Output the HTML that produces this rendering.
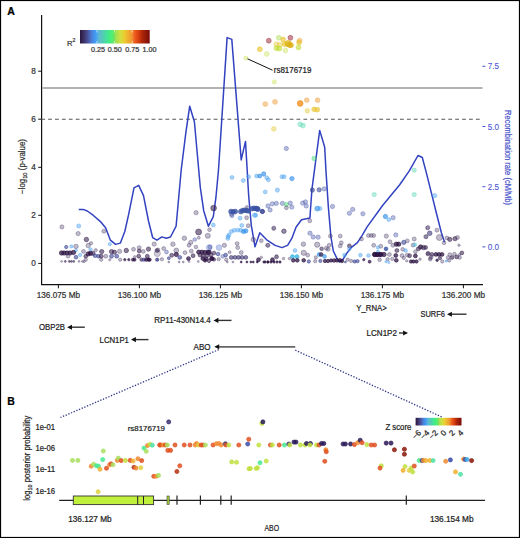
<!DOCTYPE html>
<html><head><meta charset="utf-8"><style>
html,body{margin:0;padding:0;background:#fff;}
svg{display:block;font-family:"Liberation Sans", sans-serif;}
text{stroke-width:0.22px;}
</style></head><body>
<svg width="520" height="538" viewBox="0 0 520 538">
<rect x="0.5" y="0.5" width="519" height="537" fill="none" stroke="#000" stroke-width="1.2"/>
<text x="7.3" y="14.6" font-size="10.5" text-anchor="start" fill="#000" stroke="#000" font-weight="bold">A</text>
<text x="7.3" y="405.2" font-size="10.5" text-anchor="start" fill="#000" stroke="#000" font-weight="bold">B</text>
<g stroke="#111" stroke-width="1.2" fill="none">
<path d="M41.6 15 V284.6 H483"/>
</g>
<line x1="38.2" x2="41.6" y1="263.4" y2="263.4" stroke="#111" stroke-width="1"/>
<text x="35.8" y="266.4" font-size="8.2" text-anchor="end" fill="#333" stroke="#333" >0</text>
<line x1="38.2" x2="41.6" y1="215.3" y2="215.3" stroke="#111" stroke-width="1"/>
<text x="35.8" y="218.33999999999997" font-size="8.2" text-anchor="end" fill="#333" stroke="#333" >2</text>
<line x1="38.2" x2="41.6" y1="167.3" y2="167.3" stroke="#111" stroke-width="1"/>
<text x="35.8" y="170.27999999999997" font-size="8.2" text-anchor="end" fill="#333" stroke="#333" >4</text>
<line x1="38.2" x2="41.6" y1="119.2" y2="119.2" stroke="#111" stroke-width="1"/>
<text x="35.8" y="122.21999999999997" font-size="8.2" text-anchor="end" fill="#333" stroke="#333" >6</text>
<line x1="38.2" x2="41.6" y1="71.2" y2="71.2" stroke="#111" stroke-width="1"/>
<text x="35.8" y="74.15999999999997" font-size="8.2" text-anchor="end" fill="#333" stroke="#333" >8</text>
<line x1="58.4" x2="58.4" y1="284.6" y2="288.3" stroke="#111" stroke-width="1"/>
<text x="58.4" y="297.6" font-size="8.2" text-anchor="middle" fill="#333" stroke="#333" >136.075 Mb</text>
<line x1="139.4" x2="139.4" y1="284.6" y2="288.3" stroke="#111" stroke-width="1"/>
<text x="139.4" y="297.6" font-size="8.2" text-anchor="middle" fill="#333" stroke="#333" >136.100 Mb</text>
<line x1="220.4" x2="220.4" y1="284.6" y2="288.3" stroke="#111" stroke-width="1"/>
<text x="220.4" y="297.6" font-size="8.2" text-anchor="middle" fill="#333" stroke="#333" >136.125 Mb</text>
<line x1="301.4" x2="301.4" y1="284.6" y2="288.3" stroke="#111" stroke-width="1"/>
<text x="301.4" y="297.6" font-size="8.2" text-anchor="middle" fill="#333" stroke="#333" >136.150 Mb</text>
<line x1="382.4" x2="382.4" y1="284.6" y2="288.3" stroke="#111" stroke-width="1"/>
<text x="382.4" y="297.6" font-size="8.2" text-anchor="middle" fill="#333" stroke="#333" >136.175 Mb</text>
<line x1="463.4" x2="463.4" y1="284.6" y2="288.3" stroke="#111" stroke-width="1"/>
<text x="463.4" y="297.6" font-size="8.2" text-anchor="middle" fill="#333" stroke="#333" >136.200 Mb</text>
<text transform="translate(24.6,166.5) rotate(-90)" font-size="8.4" text-anchor="middle" fill="#333" stroke="#333" textLength="55" lengthAdjust="spacingAndGlyphs">&#8722;log<tspan font-size="6" dy="2">10</tspan><tspan dy="-2"> (p-value)</tspan></text>
<line x1="42.2" x2="482.5" y1="88" y2="88" stroke="#999" stroke-width="1.3"/>
<line x1="41.2" x2="482.5" y1="119.2" y2="119.2" stroke="#555" stroke-width="1.1" stroke-dasharray="3.8 3.1"/>
<line x1="482.4" x2="485.4" y1="246.9" y2="246.9" stroke="#4b55cc" stroke-width="1"/>
<text x="487.8" y="249.9" font-size="9.0" text-anchor="start" fill="#4c56d4" stroke="#4c56d4" textLength="11.3" lengthAdjust="spacingAndGlyphs" style="stroke-width:0.1px">0.0</text>
<line x1="482.4" x2="485.4" y1="186.7" y2="186.7" stroke="#4b55cc" stroke-width="1"/>
<text x="487.8" y="189.70000000000002" font-size="9.0" text-anchor="start" fill="#4c56d4" stroke="#4c56d4" textLength="11.3" lengthAdjust="spacingAndGlyphs" style="stroke-width:0.1px">2.5</text>
<line x1="482.4" x2="485.4" y1="126.5" y2="126.5" stroke="#4b55cc" stroke-width="1"/>
<text x="487.8" y="129.5" font-size="9.0" text-anchor="start" fill="#4c56d4" stroke="#4c56d4" textLength="11.3" lengthAdjust="spacingAndGlyphs" style="stroke-width:0.1px">5.0</text>
<line x1="482.4" x2="485.4" y1="66.3" y2="66.3" stroke="#4b55cc" stroke-width="1"/>
<text x="487.8" y="69.30000000000001" font-size="9.0" text-anchor="start" fill="#4c56d4" stroke="#4c56d4" textLength="11.3" lengthAdjust="spacingAndGlyphs" style="stroke-width:0.1px">7.5</text>
<text transform="translate(505,157.5) rotate(90)" font-size="8.6" text-anchor="middle" fill="#4b55cc" stroke="#4b55cc" textLength="95" lengthAdjust="spacingAndGlyphs">Recombination rate (cM/Mb)</text>
<defs><linearGradient id="cb" x1="0" x2="1" y1="0" y2="0"><stop offset="0.0" stop-color="#2a1840"/><stop offset="0.05" stop-color="#3a3060"/><stop offset="0.1" stop-color="#4a4a90"/><stop offset="0.17" stop-color="#4a80d8"/><stop offset="0.23" stop-color="#40a0f8"/><stop offset="0.27" stop-color="#60b8d0"/><stop offset="0.34" stop-color="#50d0b0"/><stop offset="0.4" stop-color="#40e890"/><stop offset="0.46" stop-color="#50f070"/><stop offset="0.49" stop-color="#70e060"/><stop offset="0.52" stop-color="#a8e050"/><stop offset="0.58" stop-color="#d0e040"/><stop offset="0.63" stop-color="#e8d030"/><stop offset="0.69" stop-color="#f0b030"/><stop offset="0.75" stop-color="#f09030"/><stop offset="0.78" stop-color="#f06020"/><stop offset="0.84" stop-color="#d84010"/><stop offset="0.89" stop-color="#b02808"/><stop offset="0.95" stop-color="#901808"/><stop offset="1.0" stop-color="#7a0a08"/></linearGradient></defs>
<rect x="80" y="30" width="69.7" height="13.5" fill="url(#cb)"/>
<line x1="97.0" x2="97.0" y1="30" y2="32.5" stroke="#fff" stroke-width="0.8" opacity="0.8"/>
<line x1="97.0" x2="97.0" y1="41" y2="43.5" stroke="#fff" stroke-width="0.8" opacity="0.8"/>
<line x1="114.6" x2="114.6" y1="30" y2="32.5" stroke="#fff" stroke-width="0.8" opacity="0.8"/>
<line x1="114.6" x2="114.6" y1="41" y2="43.5" stroke="#fff" stroke-width="0.8" opacity="0.8"/>
<line x1="132.2" x2="132.2" y1="30" y2="32.5" stroke="#fff" stroke-width="0.8" opacity="0.8"/>
<line x1="132.2" x2="132.2" y1="41" y2="43.5" stroke="#fff" stroke-width="0.8" opacity="0.8"/>
<text x="98" y="52.2" font-size="7.2" text-anchor="middle" fill="#333" stroke="#333" >0.25</text>
<text x="114.7" y="52.2" font-size="7.2" text-anchor="middle" fill="#333" stroke="#333" >0.50</text>
<text x="132.2" y="52.2" font-size="7.2" text-anchor="middle" fill="#333" stroke="#333" >0.75</text>
<text x="149.5" y="52.2" font-size="7.2" text-anchor="middle" fill="#333" stroke="#333" >1.00</text>
<text x="67" y="46" font-size="7.6" fill="#333" stroke="#333">R<tspan font-size="5.2" dy="-3.6">2</tspan></text>
<text x="39.0" y="330.1" font-size="8.2" text-anchor="start" fill="#222" stroke="#222" textLength="26" lengthAdjust="spacingAndGlyphs" >OBP2B</text>
<line x1="70.1" x2="84.8" y1="327.2" y2="327.2" stroke="#333" stroke-width="1.4"/>
<path d="M67.1 327.2 L72.0 324.65 L72.0 329.75Z" fill="#111"/>
<text x="99.6" y="342.6" font-size="8.2" text-anchor="start" fill="#222" stroke="#222" textLength="29.3" lengthAdjust="spacingAndGlyphs" >LCN1P1</text>
<line x1="134" x2="148.5" y1="339.6" y2="339.6" stroke="#333" stroke-width="1.4"/>
<path d="M131 339.6 L135.9 337.05 L135.9 342.15000000000003Z" fill="#111"/>
<text x="154.3" y="323.4" font-size="8.2" text-anchor="start" fill="#222" stroke="#222" textLength="56.4" lengthAdjust="spacingAndGlyphs" >RP11-430N14.4</text>
<line x1="216.5" x2="231.5" y1="320.4" y2="320.4" stroke="#333" stroke-width="1.4"/>
<path d="M213.5 320.4 L218.4 317.84999999999997 L218.4 322.95Z" fill="#111"/>
<text x="193.6" y="349.8" font-size="8.2" text-anchor="start" fill="#222" stroke="#222" textLength="17" lengthAdjust="spacingAndGlyphs" >ABO</text>
<line x1="217.3" x2="295.3" y1="346.8" y2="346.8" stroke="#666" stroke-width="1.7"/>
<path d="M214.3 346.8 L219.20000000000002 344.25 L219.20000000000002 349.35Z" fill="#111"/>
<text x="356.3" y="310.8" font-size="8.2" text-anchor="start" fill="#222" stroke="#222" textLength="30.4" lengthAdjust="spacingAndGlyphs" >Y_RNA&gt;</text>
<text x="420.4" y="317.2" font-size="8.2" text-anchor="start" fill="#222" stroke="#222" textLength="24.5" lengthAdjust="spacingAndGlyphs" >SURF6</text>
<line x1="450" x2="466.5" y1="314.2" y2="314.2" stroke="#333" stroke-width="1.4"/>
<path d="M447 314.2 L451.9 311.65 L451.9 316.75Z" fill="#111"/>
<text x="366.6" y="336" font-size="8.2" text-anchor="start" fill="#222" stroke="#222" textLength="30.3" lengthAdjust="spacingAndGlyphs" >LCN1P2</text>
<line x1="399" x2="405" y1="333" y2="333" stroke="#333" stroke-width="1.4"/>
<path d="M408 333 L403.1 330.45 L403.1 335.55Z" fill="#111"/>
<line x1="218.7" y1="349.6" x2="60.5" y2="417.5" stroke="#2e3588" stroke-width="1.3" stroke-dasharray="1.3 1.6"/>
<line x1="295.3" y1="350.2" x2="443" y2="417.5" stroke="#2e3588" stroke-width="1.3" stroke-dasharray="1.3 1.6"/>
<text x="35.5" y="429.5" font-size="8.2" text-anchor="start" fill="#222" stroke="#222" textLength="19.6" lengthAdjust="spacingAndGlyphs" >1e-01</text>
<text x="35.5" y="450.9" font-size="8.2" text-anchor="start" fill="#222" stroke="#222" textLength="19.6" lengthAdjust="spacingAndGlyphs" >1e-06</text>
<text x="35.5" y="472.4" font-size="8.2" text-anchor="start" fill="#222" stroke="#222" textLength="19.6" lengthAdjust="spacingAndGlyphs" >1e-11</text>
<text x="35.5" y="494.4" font-size="8.2" text-anchor="start" fill="#222" stroke="#222" textLength="19.6" lengthAdjust="spacingAndGlyphs" >1e-16</text>
<text transform="translate(29.6,458.2) rotate(-90)" font-size="8.4" text-anchor="middle" fill="#222" stroke="#222" textLength="85" lengthAdjust="spacingAndGlyphs">log<tspan font-size="6" dy="2">10</tspan><tspan dy="-2"> posterior probability</tspan></text>
<line x1="59.2" x2="485" y1="500.3" y2="500.3" stroke="#222" stroke-width="1.2"/>
<rect x="73.3" y="496" width="80.3" height="8.6" fill="#c0f03c" stroke="#333" stroke-width="0.9"/>
<line x1="137.7" x2="137.7" y1="496" y2="504.6" stroke="#222" stroke-width="1"/>
<line x1="143.5" x2="143.5" y1="496" y2="504.6" stroke="#222" stroke-width="1"/>
<rect x="167" y="496" width="2.2" height="8.6" fill="#a4cc30" stroke="#444" stroke-width="0.6"/>
<line x1="177" x2="177" y1="495.6" y2="504.8" stroke="#222" stroke-width="1.2"/>
<line x1="200.4" x2="200.4" y1="495.6" y2="504.8" stroke="#222" stroke-width="1.2"/>
<line x1="220.8" x2="220.8" y1="495.6" y2="504.8" stroke="#222" stroke-width="1.2"/>
<line x1="231.2" x2="231.2" y1="495.6" y2="504.8" stroke="#222" stroke-width="1.2"/>
<line x1="406.3" x2="406.3" y1="495.6" y2="504.8" stroke="#222" stroke-width="1.2"/>
<text x="68.2" y="521.6" font-size="8.2" text-anchor="start" fill="#222" stroke="#222" textLength="43.4" lengthAdjust="spacingAndGlyphs" >136.127 Mb</text>
<text x="429.9" y="522.2" font-size="8.2" text-anchor="start" fill="#222" stroke="#222" textLength="43.7" lengthAdjust="spacingAndGlyphs" >136.154 Mb</text>
<text x="264.5" y="530.8" font-size="9.5" text-anchor="start" fill="#222" stroke="#222" textLength="14.6" lengthAdjust="spacingAndGlyphs" >ABO</text>
<text x="273.8" y="73.2" font-size="8.6" text-anchor="start" fill="#222" stroke="#222" textLength="37.6" lengthAdjust="spacingAndGlyphs" >rs8176719</text>
<text x="127.7" y="430.8" font-size="7.8" text-anchor="start" fill="#222" stroke="#222" textLength="37.3" lengthAdjust="spacingAndGlyphs" >rs8176719</text>
<rect x="415.6" y="417.8" width="45.9" height="7.7" fill="url(#cb)"/>
<text x="385.4" y="430" font-size="8.2" text-anchor="start" fill="#222" stroke="#222" textLength="26" lengthAdjust="spacingAndGlyphs" >Z score</text>
<text transform="translate(421.6,433.3) rotate(-45)" font-size="8" text-anchor="end" fill="#222" stroke="#222">&#8722;6</text>
<text transform="translate(430.0,433.3) rotate(-45)" font-size="8" text-anchor="end" fill="#222" stroke="#222">&#8722;4</text>
<text transform="translate(438.5,433.3) rotate(-45)" font-size="8" text-anchor="end" fill="#222" stroke="#222">&#8722;2</text>
<text transform="translate(446.9,433.3) rotate(-45)" font-size="8" text-anchor="end" fill="#222" stroke="#222">0</text>
<text transform="translate(455.4,433.3) rotate(-45)" font-size="8" text-anchor="end" fill="#222" stroke="#222">2</text>
<text transform="translate(463.8,433.3) rotate(-45)" font-size="8" text-anchor="end" fill="#222" stroke="#222">4</text>
<polyline fill="none" stroke="#3242c0" stroke-width="1.5" stroke-linejoin="round" points="78.7,209.4 83.1,209.4 87.3,211 93.1,215.2 100.8,221.9 105.6,227.7 110.4,240.2 115.6,244.4 120.4,243.1 124.8,231.5 128.7,214.2 134,187.9 138.7,185.4 143.5,195.6 148.5,221 152.7,237.7 156.9,240.2 161.9,236.9 166.2,238.3 170.5,237 176.1,226.2 181.2,170 185.8,133.1 189.7,106.2 194.4,121.8 200.3,187.3 203.7,210.7 208.4,226.2 213.3,216.7 215.9,197.7 218.5,170 227.1,37.6 231.8,39.4 241.2,159.9 245.5,141.4 248.7,196 251.3,225.4 255,246.8 259.8,232.8 266.7,239.8 275.1,245.4 282,247.6 287.6,245.4 291.8,238.4 296,227.3 301.5,219.7 309.9,218.1 311.9,189.7 319.7,130.4 324.7,147.3 326,171.4 328.4,207.6 330.9,236.6 333.3,251 336.9,258.3 339.3,261.9 342.9,259.5 346.6,253.5 351.4,247.4 357.4,242.6 362.2,235.4 367.1,226.9 382.8,205.2 399.7,184.7 409.3,170.9 418,155.5 422.3,157.5 426.3,172.6 431.3,192.6 436.3,212.7 441.4,232.8 444.6,242.3"/>
<circle cx="268.8" cy="40.7" r="2.45" fill="#a03040" fill-opacity="0.55" stroke="#a03040" stroke-opacity="0.65" stroke-width="0.7"/>
<circle cx="278.8" cy="37.8" r="2.45" fill="#b0e060" fill-opacity="0.5" stroke="#b0e060" stroke-opacity="0.6" stroke-width="0.7"/>
<circle cx="283.1" cy="39.5" r="2.45" fill="#e8c020" fill-opacity="0.6" stroke="#e8c020" stroke-opacity="0.7" stroke-width="0.7"/>
<circle cx="290.4" cy="37.8" r="2.45" fill="#a03040" fill-opacity="0.55" stroke="#a03040" stroke-opacity="0.65" stroke-width="0.7"/>
<circle cx="299.6" cy="40.7" r="2.45" fill="#f0a850" fill-opacity="0.55" stroke="#f0a850" stroke-opacity="0.65" stroke-width="0.7"/>
<circle cx="299.0" cy="42.5" r="2.45" fill="#e8c020" fill-opacity="0.6" stroke="#e8c020" stroke-opacity="0.7" stroke-width="0.7"/>
<circle cx="276.3" cy="44.2" r="2.45" fill="#e8d050" fill-opacity="0.5" stroke="#e8d050" stroke-opacity="0.6" stroke-width="0.7"/>
<circle cx="279.8" cy="44.7" r="2.45" fill="#e8d050" fill-opacity="0.5" stroke="#e8d050" stroke-opacity="0.6" stroke-width="0.7"/>
<circle cx="284.6" cy="44.2" r="2.45" fill="#e8c020" fill-opacity="0.6" stroke="#e8c020" stroke-opacity="0.7" stroke-width="0.7"/>
<circle cx="288.1" cy="43.6" r="3.15" fill="#dcb010" fill-opacity="0.7" stroke="#dcb010" stroke-opacity="0.8" stroke-width="0.7"/>
<circle cx="291.0" cy="45.3" r="2.45" fill="#dcb010" fill-opacity="0.7" stroke="#dcb010" stroke-opacity="0.8" stroke-width="0.7"/>
<circle cx="289.5" cy="44.8" r="2.65" fill="#dcb010" fill-opacity="0.7" stroke="#dcb010" stroke-opacity="0.8" stroke-width="0.7"/>
<circle cx="276.5" cy="48.2" r="2.45" fill="#bcd820" fill-opacity="0.55" stroke="#bcd820" stroke-opacity="0.65" stroke-width="0.7"/>
<circle cx="279.4" cy="48.5" r="2.45" fill="#bcd820" fill-opacity="0.55" stroke="#bcd820" stroke-opacity="0.65" stroke-width="0.7"/>
<circle cx="285.5" cy="50.5" r="2.45" fill="#d0e870" fill-opacity="0.5" stroke="#d0e870" stroke-opacity="0.6" stroke-width="0.7"/>
<circle cx="298.5" cy="47.4" r="2.45" fill="#bcd820" fill-opacity="0.55" stroke="#bcd820" stroke-opacity="0.65" stroke-width="0.7"/>
<circle cx="259.8" cy="49.3" r="2.45" fill="#e8c020" fill-opacity="0.6" stroke="#e8c020" stroke-opacity="0.7" stroke-width="0.7"/>
<circle cx="266.7" cy="54.0" r="2.45" fill="#d0e870" fill-opacity="0.5" stroke="#d0e870" stroke-opacity="0.6" stroke-width="0.7"/>
<circle cx="246.0" cy="58.1" r="2.15" fill="#d0e870" fill-opacity="0.5" stroke="#d0e870" stroke-opacity="0.6" stroke-width="0.7"/>
<circle cx="274.3" cy="82.0" r="2.15" fill="#d0e870" fill-opacity="0.5" stroke="#d0e870" stroke-opacity="0.6" stroke-width="0.7"/>
<circle cx="265.3" cy="104.1" r="2.45" fill="#f0a850" fill-opacity="0.55" stroke="#f0a850" stroke-opacity="0.65" stroke-width="0.7"/>
<circle cx="275.0" cy="101.9" r="2.45" fill="#f0a850" fill-opacity="0.55" stroke="#f0a850" stroke-opacity="0.65" stroke-width="0.7"/>
<circle cx="300.2" cy="103.4" r="2.85" fill="#f08a10" fill-opacity="0.75" stroke="#f08a10" stroke-opacity="0.85" stroke-width="0.7"/>
<circle cx="306.7" cy="100.2" r="2.35" fill="#f0a850" fill-opacity="0.55" stroke="#f0a850" stroke-opacity="0.65" stroke-width="0.7"/>
<circle cx="317.6" cy="100.2" r="2.35" fill="#f0a850" fill-opacity="0.55" stroke="#f0a850" stroke-opacity="0.65" stroke-width="0.7"/>
<circle cx="307.3" cy="110.8" r="2.35" fill="#e8d050" fill-opacity="0.5" stroke="#e8d050" stroke-opacity="0.6" stroke-width="0.7"/>
<circle cx="314.1" cy="109.3" r="2.35" fill="#e8c020" fill-opacity="0.6" stroke="#e8c020" stroke-opacity="0.7" stroke-width="0.7"/>
<circle cx="317.3" cy="109.7" r="2.35" fill="#e8c020" fill-opacity="0.6" stroke="#e8c020" stroke-opacity="0.7" stroke-width="0.7"/>
<circle cx="300.2" cy="124.3" r="2.35" fill="#50d4b0" fill-opacity="0.4" stroke="#50d4b0" stroke-opacity="0.55" stroke-width="0.7"/>
<circle cx="303.0" cy="125.6" r="2.35" fill="#50d4b0" fill-opacity="0.4" stroke="#50d4b0" stroke-opacity="0.55" stroke-width="0.7"/>
<circle cx="273.8" cy="128.9" r="2.35" fill="#e8d050" fill-opacity="0.5" stroke="#e8d050" stroke-opacity="0.6" stroke-width="0.7"/>
<circle cx="286.3" cy="148.5" r="2.15" fill="#4a5aa8" fill-opacity="0.4" stroke="#4a5aa8" stroke-opacity="0.55" stroke-width="0.7"/>
<circle cx="314.0" cy="158.5" r="2.15" fill="#40d870" fill-opacity="0.45" stroke="#40d870" stroke-opacity="0.6" stroke-width="0.7"/>
<circle cx="374.2" cy="194.6" r="2.15" fill="#50d4b0" fill-opacity="0.4" stroke="#50d4b0" stroke-opacity="0.55" stroke-width="0.7"/>
<circle cx="414.2" cy="194.6" r="2.15" fill="#50d4b0" fill-opacity="0.4" stroke="#50d4b0" stroke-opacity="0.55" stroke-width="0.7"/>
<circle cx="414.2" cy="170.2" r="2.15" fill="#50d4b0" fill-opacity="0.4" stroke="#50d4b0" stroke-opacity="0.55" stroke-width="0.7"/>
<circle cx="434.6" cy="195.7" r="2.15" fill="#4aa0f0" fill-opacity="0.45" stroke="#4aa0f0" stroke-opacity="0.6" stroke-width="0.7"/>
<circle cx="232" cy="177.5" r="1.95" fill="#4aa0f0" fill-opacity="0.45" stroke="#4aa0f0" stroke-opacity="0.6" stroke-width="0.7"/>
<circle cx="243.3" cy="180.5" r="1.95" fill="#4aa0f0" fill-opacity="0.45" stroke="#4aa0f0" stroke-opacity="0.6" stroke-width="0.7"/>
<circle cx="248.6" cy="176.8" r="1.95" fill="#4aa0f0" fill-opacity="0.45" stroke="#4aa0f0" stroke-opacity="0.6" stroke-width="0.7"/>
<circle cx="256.6" cy="176" r="1.95" fill="#4aa0f0" fill-opacity="0.45" stroke="#4aa0f0" stroke-opacity="0.6" stroke-width="0.7"/>
<circle cx="259.7" cy="176" r="1.95" fill="#2e8ce8" fill-opacity="0.62" stroke="#2e8ce8" stroke-opacity="0.78" stroke-width="0.7"/>
<circle cx="263.7" cy="174" r="2.15" fill="#2e8ce8" fill-opacity="0.62" stroke="#2e8ce8" stroke-opacity="0.78" stroke-width="0.7"/>
<circle cx="266.7" cy="177.8" r="1.95" fill="#4aa0f0" fill-opacity="0.45" stroke="#4aa0f0" stroke-opacity="0.6" stroke-width="0.7"/>
<circle cx="268.4" cy="179.8" r="1.95" fill="#4aa0f0" fill-opacity="0.45" stroke="#4aa0f0" stroke-opacity="0.6" stroke-width="0.7"/>
<circle cx="281.9" cy="176.7" r="1.95" fill="#4aa0f0" fill-opacity="0.45" stroke="#4aa0f0" stroke-opacity="0.6" stroke-width="0.7"/>
<circle cx="284.2" cy="176.7" r="1.95" fill="#4aa0f0" fill-opacity="0.45" stroke="#4aa0f0" stroke-opacity="0.6" stroke-width="0.7"/>
<circle cx="291.9" cy="178.6" r="2.15" fill="#2e8ce8" fill-opacity="0.62" stroke="#2e8ce8" stroke-opacity="0.78" stroke-width="0.7"/>
<circle cx="265.2" cy="191.9" r="1.95" fill="#4aa0f0" fill-opacity="0.45" stroke="#4aa0f0" stroke-opacity="0.6" stroke-width="0.7"/>
<circle cx="277.4" cy="190.1" r="2.15" fill="#4aa0f0" fill-opacity="0.45" stroke="#4aa0f0" stroke-opacity="0.6" stroke-width="0.7"/>
<circle cx="312.4" cy="190.1" r="2.15" fill="#2e3a8c" fill-opacity="0.55" stroke="#2e3a8c" stroke-opacity="0.7" stroke-width="0.7"/>
<circle cx="319.2" cy="189.8" r="2.15" fill="#2e3a8c" fill-opacity="0.55" stroke="#2e3a8c" stroke-opacity="0.7" stroke-width="0.7"/>
<circle cx="324.2" cy="188.9" r="2.15" fill="#4a5aa8" fill-opacity="0.4" stroke="#4a5aa8" stroke-opacity="0.55" stroke-width="0.7"/>
<circle cx="257.2" cy="208.8" r="2.45" fill="#2e3a8c" fill-opacity="0.55" stroke="#2e3a8c" stroke-opacity="0.7" stroke-width="0.7"/>
<circle cx="262.2" cy="211.4" r="2.15" fill="#2e3a8c" fill-opacity="0.55" stroke="#2e3a8c" stroke-opacity="0.7" stroke-width="0.7"/>
<circle cx="268" cy="206" r="2.15" fill="#4a5aa8" fill-opacity="0.4" stroke="#4a5aa8" stroke-opacity="0.55" stroke-width="0.7"/>
<circle cx="270.1" cy="210" r="2.15" fill="#4a5aa8" fill-opacity="0.4" stroke="#4a5aa8" stroke-opacity="0.55" stroke-width="0.7"/>
<circle cx="272.3" cy="203.8" r="2.15" fill="#4a5aa8" fill-opacity="0.4" stroke="#4a5aa8" stroke-opacity="0.55" stroke-width="0.7"/>
<circle cx="276.3" cy="203.4" r="2.15" fill="#4a5aa8" fill-opacity="0.4" stroke="#4a5aa8" stroke-opacity="0.55" stroke-width="0.7"/>
<circle cx="282.4" cy="203.4" r="2.15" fill="#4a5aa8" fill-opacity="0.4" stroke="#4a5aa8" stroke-opacity="0.55" stroke-width="0.7"/>
<circle cx="286.4" cy="204.5" r="2.15" fill="#40d870" fill-opacity="0.45" stroke="#40d870" stroke-opacity="0.6" stroke-width="0.7"/>
<circle cx="290.3" cy="203.1" r="2.15" fill="#4a5aa8" fill-opacity="0.4" stroke="#4a5aa8" stroke-opacity="0.55" stroke-width="0.7"/>
<circle cx="291.8" cy="207.1" r="2.15" fill="#4a5aa8" fill-opacity="0.4" stroke="#4a5aa8" stroke-opacity="0.55" stroke-width="0.7"/>
<circle cx="286.4" cy="207.7" r="1.95" fill="#4a3a66" fill-opacity="0.34" stroke="#4a3a66" stroke-opacity="0.52" stroke-width="0.7"/>
<circle cx="302.6" cy="203.1" r="2.15" fill="#4a5aa8" fill-opacity="0.4" stroke="#4a5aa8" stroke-opacity="0.55" stroke-width="0.7"/>
<circle cx="305.5" cy="201.9" r="2.15" fill="#4a5aa8" fill-opacity="0.4" stroke="#4a5aa8" stroke-opacity="0.55" stroke-width="0.7"/>
<circle cx="306.2" cy="206" r="2.15" fill="#4a5aa8" fill-opacity="0.4" stroke="#4a5aa8" stroke-opacity="0.55" stroke-width="0.7"/>
<circle cx="317.3" cy="208.6" r="2.45" fill="#2e8ce8" fill-opacity="0.62" stroke="#2e8ce8" stroke-opacity="0.78" stroke-width="0.7"/>
<circle cx="255.7" cy="215.3" r="1.95" fill="#4aa0f0" fill-opacity="0.45" stroke="#4aa0f0" stroke-opacity="0.6" stroke-width="0.7"/>
<circle cx="309.8" cy="220.8" r="1.95" fill="#4a3a66" fill-opacity="0.34" stroke="#4a3a66" stroke-opacity="0.52" stroke-width="0.7"/>
<circle cx="273.8" cy="227.9" r="1.95" fill="#4a3a66" fill-opacity="0.34" stroke="#4a3a66" stroke-opacity="0.52" stroke-width="0.7"/>
<circle cx="283.8" cy="231.2" r="2.15" fill="#4a3a66" fill-opacity="0.34" stroke="#4a3a66" stroke-opacity="0.52" stroke-width="0.7"/>
<circle cx="231.5" cy="214.2" r="2.15" fill="#4a5aa8" fill-opacity="0.4" stroke="#4a5aa8" stroke-opacity="0.55" stroke-width="0.7"/>
<circle cx="231" cy="211.5" r="2.35" fill="#3a52a4" fill-opacity="0.8" stroke="#3a52a4" stroke-opacity="0.85" stroke-width="0.7"/>
<circle cx="233.2" cy="211.8" r="2.35" fill="#3a52a4" fill-opacity="0.8" stroke="#3a52a4" stroke-opacity="0.85" stroke-width="0.7"/>
<circle cx="235.3" cy="211.5" r="2.35" fill="#3a52a4" fill-opacity="0.8" stroke="#3a52a4" stroke-opacity="0.85" stroke-width="0.7"/>
<circle cx="240.8" cy="211.6" r="2.35" fill="#3a52a4" fill-opacity="0.8" stroke="#3a52a4" stroke-opacity="0.85" stroke-width="0.7"/>
<circle cx="242.6" cy="210.6" r="2.35" fill="#3a52a4" fill-opacity="0.8" stroke="#3a52a4" stroke-opacity="0.85" stroke-width="0.7"/>
<circle cx="244.6" cy="210.2" r="2.35" fill="#3a52a4" fill-opacity="0.8" stroke="#3a52a4" stroke-opacity="0.85" stroke-width="0.7"/>
<circle cx="246.6" cy="210.5" r="2.35" fill="#3a52a4" fill-opacity="0.8" stroke="#3a52a4" stroke-opacity="0.85" stroke-width="0.7"/>
<circle cx="248.4" cy="211" r="2.35" fill="#3a52a4" fill-opacity="0.8" stroke="#3a52a4" stroke-opacity="0.85" stroke-width="0.7"/>
<circle cx="252.2" cy="208.6" r="2.35" fill="#3a52a4" fill-opacity="0.8" stroke="#3a52a4" stroke-opacity="0.85" stroke-width="0.7"/>
<circle cx="254.2" cy="208.3" r="2.35" fill="#3a52a4" fill-opacity="0.8" stroke="#3a52a4" stroke-opacity="0.85" stroke-width="0.7"/>
<circle cx="256.2" cy="208.5" r="2.35" fill="#3a52a4" fill-opacity="0.8" stroke="#3a52a4" stroke-opacity="0.85" stroke-width="0.7"/>
<circle cx="257.8" cy="209.2" r="2.35" fill="#3a52a4" fill-opacity="0.8" stroke="#3a52a4" stroke-opacity="0.85" stroke-width="0.7"/>
<circle cx="262.6" cy="211.6" r="2.05" fill="#2e3a8c" fill-opacity="0.55" stroke="#2e3a8c" stroke-opacity="0.7" stroke-width="0.7"/>
<circle cx="232" cy="215.7" r="1.95" fill="#4a5aa8" fill-opacity="0.4" stroke="#4a5aa8" stroke-opacity="0.55" stroke-width="0.7"/>
<circle cx="240.1" cy="218.2" r="1.95" fill="#4aa0f0" fill-opacity="0.45" stroke="#4aa0f0" stroke-opacity="0.6" stroke-width="0.7"/>
<circle cx="246.6" cy="217.7" r="1.95" fill="#4a3a66" fill-opacity="0.34" stroke="#4a3a66" stroke-opacity="0.52" stroke-width="0.7"/>
<circle cx="254.6" cy="215.2" r="2.15" fill="#4aa0f0" fill-opacity="0.45" stroke="#4aa0f0" stroke-opacity="0.6" stroke-width="0.7"/>
<circle cx="246.9" cy="207" r="1.45" fill="#4a3a66" fill-opacity="0.34" stroke="#4a3a66" stroke-opacity="0.52" stroke-width="0.7"/>
<circle cx="213.3" cy="225" r="1.95" fill="#4aa0f0" fill-opacity="0.45" stroke="#4aa0f0" stroke-opacity="0.6" stroke-width="0.7"/>
<circle cx="241.8" cy="225.4" r="1.95" fill="#4aa0f0" fill-opacity="0.45" stroke="#4aa0f0" stroke-opacity="0.6" stroke-width="0.7"/>
<circle cx="248.2" cy="225.7" r="1.95" fill="#4a3a66" fill-opacity="0.34" stroke="#4a3a66" stroke-opacity="0.52" stroke-width="0.7"/>
<circle cx="227.9" cy="238.4" r="1.95" fill="#4aa0f0" fill-opacity="0.45" stroke="#4aa0f0" stroke-opacity="0.6" stroke-width="0.7"/>
<circle cx="229" cy="234.9" r="1.95" fill="#4aa0f0" fill-opacity="0.45" stroke="#4aa0f0" stroke-opacity="0.6" stroke-width="0.7"/>
<circle cx="231.3" cy="231.5" r="1.95" fill="#4aa0f0" fill-opacity="0.45" stroke="#4aa0f0" stroke-opacity="0.6" stroke-width="0.7"/>
<circle cx="234.2" cy="230.3" r="1.95" fill="#4aa0f0" fill-opacity="0.45" stroke="#4aa0f0" stroke-opacity="0.6" stroke-width="0.7"/>
<circle cx="237.7" cy="230.1" r="1.95" fill="#4aa0f0" fill-opacity="0.45" stroke="#4aa0f0" stroke-opacity="0.6" stroke-width="0.7"/>
<circle cx="240.6" cy="230.3" r="1.95" fill="#4aa0f0" fill-opacity="0.45" stroke="#4aa0f0" stroke-opacity="0.6" stroke-width="0.7"/>
<circle cx="243.5" cy="231.5" r="2.15" fill="#2e8ce8" fill-opacity="0.62" stroke="#2e8ce8" stroke-opacity="0.78" stroke-width="0.7"/>
<circle cx="245.8" cy="230.9" r="2.15" fill="#2e8ce8" fill-opacity="0.62" stroke="#2e8ce8" stroke-opacity="0.78" stroke-width="0.7"/>
<circle cx="228.0" cy="236.5" r="1.95" fill="#4aa0f0" fill-opacity="0.45" stroke="#4aa0f0" stroke-opacity="0.6" stroke-width="0.7"/>
<circle cx="332.5" cy="206.5" r="2.15" fill="#4a5aa8" fill-opacity="0.4" stroke="#4a5aa8" stroke-opacity="0.55" stroke-width="0.7"/>
<circle cx="352.7" cy="209.4" r="2.15" fill="#4a5aa8" fill-opacity="0.4" stroke="#4a5aa8" stroke-opacity="0.55" stroke-width="0.7"/>
<circle cx="349.4" cy="213.3" r="2.15" fill="#4a5aa8" fill-opacity="0.4" stroke="#4a5aa8" stroke-opacity="0.55" stroke-width="0.7"/>
<circle cx="362.9" cy="213.8" r="2.15" fill="#4a5aa8" fill-opacity="0.4" stroke="#4a5aa8" stroke-opacity="0.55" stroke-width="0.7"/>
<circle cx="385.4" cy="216.5" r="2.15" fill="#2e8ce8" fill-opacity="0.62" stroke="#2e8ce8" stroke-opacity="0.78" stroke-width="0.7"/>
<circle cx="388.8" cy="219.6" r="1.95" fill="#4aa0f0" fill-opacity="0.45" stroke="#4aa0f0" stroke-opacity="0.6" stroke-width="0.7"/>
<circle cx="393.1" cy="217.7" r="2.15" fill="#4a5aa8" fill-opacity="0.4" stroke="#4a5aa8" stroke-opacity="0.55" stroke-width="0.7"/>
<circle cx="320" cy="208.5" r="1.95" fill="#4aa0f0" fill-opacity="0.45" stroke="#4aa0f0" stroke-opacity="0.6" stroke-width="0.7"/>
<circle cx="61.9" cy="226.9" r="2.05" fill="#4a3a66" fill-opacity="0.34" stroke="#4a3a66" stroke-opacity="0.52" stroke-width="0.7"/>
<circle cx="78.7" cy="226" r="2.05" fill="#4aa0f0" fill-opacity="0.45" stroke="#4aa0f0" stroke-opacity="0.6" stroke-width="0.7"/>
<circle cx="78.1" cy="233.6" r="2.15" fill="#4a3a66" fill-opacity="0.34" stroke="#4a3a66" stroke-opacity="0.52" stroke-width="0.7"/>
<circle cx="103.9" cy="231.2" r="2.05" fill="#4a3a66" fill-opacity="0.34" stroke="#4a3a66" stroke-opacity="0.52" stroke-width="0.7"/>
<circle cx="86.4" cy="239.5" r="2.25" fill="#3a2450" fill-opacity="0.58" stroke="#3a2450" stroke-opacity="0.75" stroke-width="0.7"/>
<circle cx="91" cy="243.2" r="1.65" fill="#4a3a66" fill-opacity="0.34" stroke="#4a3a66" stroke-opacity="0.52" stroke-width="0.7"/>
<circle cx="88.2" cy="245.6" r="2.25" fill="#4a3a66" fill-opacity="0.34" stroke="#4a3a66" stroke-opacity="0.52" stroke-width="0.7"/>
<circle cx="76" cy="246.4" r="2.25" fill="#4a3a66" fill-opacity="0.34" stroke="#4a3a66" stroke-opacity="0.52" stroke-width="0.7"/>
<circle cx="83.5" cy="251.4" r="1.95" fill="#4a3a66" fill-opacity="0.34" stroke="#4a3a66" stroke-opacity="0.52" stroke-width="0.7"/>
<circle cx="95.7" cy="250.2" r="1.65" fill="#4a3a66" fill-opacity="0.34" stroke="#4a3a66" stroke-opacity="0.52" stroke-width="0.7"/>
<circle cx="90.5" cy="249.3" r="1.65" fill="#4aa0f0" fill-opacity="0.45" stroke="#4aa0f0" stroke-opacity="0.6" stroke-width="0.7"/>
<circle cx="66.2" cy="247" r="1.65" fill="#2e3a8c" fill-opacity="0.55" stroke="#2e3a8c" stroke-opacity="0.7" stroke-width="0.7"/>
<circle cx="71.4" cy="246.4" r="1.65" fill="#4aa0f0" fill-opacity="0.45" stroke="#4aa0f0" stroke-opacity="0.6" stroke-width="0.7"/>
<circle cx="76" cy="250.5" r="1.45" fill="#4aa0f0" fill-opacity="0.45" stroke="#4aa0f0" stroke-opacity="0.6" stroke-width="0.7"/>
<circle cx="61.5" cy="253" r="2.15" fill="#2a1040" fill-opacity="0.72" stroke="#2a1040" stroke-opacity="0.85" stroke-width="0.7"/>
<circle cx="64" cy="253" r="2.15" fill="#2a1040" fill-opacity="0.72" stroke="#2a1040" stroke-opacity="0.85" stroke-width="0.7"/>
<circle cx="67" cy="253" r="2.15" fill="#2a1040" fill-opacity="0.72" stroke="#2a1040" stroke-opacity="0.85" stroke-width="0.7"/>
<circle cx="70" cy="253" r="2.15" fill="#2a1040" fill-opacity="0.72" stroke="#2a1040" stroke-opacity="0.85" stroke-width="0.7"/>
<circle cx="73.5" cy="252.5" r="2.15" fill="#2a1040" fill-opacity="0.72" stroke="#2a1040" stroke-opacity="0.85" stroke-width="0.7"/>
<circle cx="68" cy="256.2" r="1.85" fill="#4a3a66" fill-opacity="0.34" stroke="#4a3a66" stroke-opacity="0.52" stroke-width="0.7"/>
<circle cx="76" cy="257.2" r="1.85" fill="#2e3a8c" fill-opacity="0.55" stroke="#2e3a8c" stroke-opacity="0.7" stroke-width="0.7"/>
<circle cx="80.1" cy="255" r="1.65" fill="#4aa0f0" fill-opacity="0.45" stroke="#4aa0f0" stroke-opacity="0.6" stroke-width="0.7"/>
<circle cx="85.8" cy="256.2" r="1.85" fill="#3a2450" fill-opacity="0.58" stroke="#3a2450" stroke-opacity="0.75" stroke-width="0.7"/>
<circle cx="88.2" cy="253.9" r="2.15" fill="#2a1040" fill-opacity="0.72" stroke="#2a1040" stroke-opacity="0.85" stroke-width="0.7"/>
<circle cx="90.5" cy="253.3" r="2.15" fill="#2a1040" fill-opacity="0.72" stroke="#2a1040" stroke-opacity="0.85" stroke-width="0.7"/>
<circle cx="92.8" cy="253.3" r="2.15" fill="#3a2450" fill-opacity="0.58" stroke="#3a2450" stroke-opacity="0.75" stroke-width="0.7"/>
<circle cx="95.1" cy="255.7" r="1.85" fill="#2e3a8c" fill-opacity="0.55" stroke="#2e3a8c" stroke-opacity="0.7" stroke-width="0.7"/>
<circle cx="98.5" cy="256.2" r="1.85" fill="#2e3a8c" fill-opacity="0.55" stroke="#2e3a8c" stroke-opacity="0.7" stroke-width="0.7"/>
<circle cx="85.8" cy="259.7" r="1.65" fill="#4a3a66" fill-opacity="0.34" stroke="#4a3a66" stroke-opacity="0.52" stroke-width="0.7"/>
<circle cx="84.1" cy="261.4" r="1.25" fill="#4a3a66" fill-opacity="0.34" stroke="#4a3a66" stroke-opacity="0.52" stroke-width="0.7"/>
<circle cx="61.6" cy="261.4" r="0.95" fill="#4a3a66" fill-opacity="0.34" stroke="#4a3a66" stroke-opacity="0.52" stroke-width="0.7"/>
<circle cx="65.3" cy="261.4" r="0.95" fill="#3a2450" fill-opacity="0.58" stroke="#3a2450" stroke-opacity="0.75" stroke-width="0.7"/>
<circle cx="69.3" cy="261.4" r="0.95" fill="#3a2450" fill-opacity="0.58" stroke="#3a2450" stroke-opacity="0.75" stroke-width="0.7"/>
<circle cx="71.4" cy="261.4" r="0.95" fill="#3a2450" fill-opacity="0.58" stroke="#3a2450" stroke-opacity="0.75" stroke-width="0.7"/>
<circle cx="73.7" cy="261.4" r="0.95" fill="#3a2450" fill-opacity="0.58" stroke="#3a2450" stroke-opacity="0.75" stroke-width="0.7"/>
<circle cx="79" cy="261.4" r="0.95" fill="#4a3a66" fill-opacity="0.34" stroke="#4a3a66" stroke-opacity="0.52" stroke-width="0.7"/>
<circle cx="82.4" cy="261.4" r="0.95" fill="#4a3a66" fill-opacity="0.34" stroke="#4a3a66" stroke-opacity="0.52" stroke-width="0.7"/>
<circle cx="109.8" cy="244.1" r="1.65" fill="#4aa0f0" fill-opacity="0.45" stroke="#4aa0f0" stroke-opacity="0.6" stroke-width="0.7"/>
<circle cx="154.2" cy="244.1" r="2.15" fill="#4a3a66" fill-opacity="0.34" stroke="#4a3a66" stroke-opacity="0.52" stroke-width="0.7"/>
<circle cx="101.7" cy="251.6" r="2.15" fill="#3a2450" fill-opacity="0.58" stroke="#3a2450" stroke-opacity="0.75" stroke-width="0.7"/>
<circle cx="111.5" cy="251.6" r="2.15" fill="#3a2450" fill-opacity="0.58" stroke="#3a2450" stroke-opacity="0.75" stroke-width="0.7"/>
<circle cx="114.4" cy="252.2" r="2.15" fill="#3a2450" fill-opacity="0.58" stroke="#3a2450" stroke-opacity="0.75" stroke-width="0.7"/>
<circle cx="119.6" cy="251.4" r="2.15" fill="#4a3a66" fill-opacity="0.34" stroke="#4a3a66" stroke-opacity="0.52" stroke-width="0.7"/>
<circle cx="126.3" cy="250.5" r="2.25" fill="#3a2450" fill-opacity="0.58" stroke="#3a2450" stroke-opacity="0.75" stroke-width="0.7"/>
<circle cx="133.5" cy="249.3" r="1.95" fill="#4a3a66" fill-opacity="0.34" stroke="#4a3a66" stroke-opacity="0.52" stroke-width="0.7"/>
<circle cx="139.2" cy="247.6" r="1.95" fill="#4a3a66" fill-opacity="0.34" stroke="#4a3a66" stroke-opacity="0.52" stroke-width="0.7"/>
<circle cx="139.2" cy="251" r="1.95" fill="#3a2450" fill-opacity="0.58" stroke="#3a2450" stroke-opacity="0.75" stroke-width="0.7"/>
<circle cx="143.3" cy="251.4" r="1.95" fill="#4a3a66" fill-opacity="0.34" stroke="#4a3a66" stroke-opacity="0.52" stroke-width="0.7"/>
<circle cx="148.5" cy="249.1" r="2.15" fill="#3a2450" fill-opacity="0.58" stroke="#3a2450" stroke-opacity="0.75" stroke-width="0.7"/>
<circle cx="157.1" cy="250.5" r="1.95" fill="#3a2450" fill-opacity="0.58" stroke="#3a2450" stroke-opacity="0.75" stroke-width="0.7"/>
<circle cx="157.3" cy="253.4" r="3.15" fill="#5a4a72" fill-opacity="0.28" stroke="#5a4a72" stroke-opacity="0.45" stroke-width="0.7"/>
<circle cx="101.2" cy="256.2" r="1.95" fill="#3a2450" fill-opacity="0.58" stroke="#3a2450" stroke-opacity="0.75" stroke-width="0.7"/>
<circle cx="105.8" cy="256.2" r="1.95" fill="#4a3a66" fill-opacity="0.34" stroke="#4a3a66" stroke-opacity="0.52" stroke-width="0.7"/>
<circle cx="111.5" cy="256.2" r="1.95" fill="#2e3a8c" fill-opacity="0.55" stroke="#2e3a8c" stroke-opacity="0.7" stroke-width="0.7"/>
<circle cx="116.7" cy="256.2" r="1.95" fill="#2e3a8c" fill-opacity="0.55" stroke="#2e3a8c" stroke-opacity="0.7" stroke-width="0.7"/>
<circle cx="138.7" cy="256.2" r="1.95" fill="#3a2450" fill-opacity="0.58" stroke="#3a2450" stroke-opacity="0.75" stroke-width="0.7"/>
<circle cx="134.6" cy="256.8" r="1.25" fill="#4a3a66" fill-opacity="0.34" stroke="#4a3a66" stroke-opacity="0.52" stroke-width="0.7"/>
<circle cx="147.3" cy="256.2" r="1.95" fill="#3a2450" fill-opacity="0.58" stroke="#3a2450" stroke-opacity="0.75" stroke-width="0.7"/>
<circle cx="101.2" cy="259.7" r="1.65" fill="#4a3a66" fill-opacity="0.34" stroke="#4a3a66" stroke-opacity="0.52" stroke-width="0.7"/>
<circle cx="109.8" cy="259.7" r="1.15" fill="#4a3a66" fill-opacity="0.34" stroke="#4a3a66" stroke-opacity="0.52" stroke-width="0.7"/>
<circle cx="120.2" cy="259.7" r="1.65" fill="#4a3a66" fill-opacity="0.34" stroke="#4a3a66" stroke-opacity="0.52" stroke-width="0.7"/>
<circle cx="124.8" cy="259.7" r="1.15" fill="#2a1040" fill-opacity="0.72" stroke="#2a1040" stroke-opacity="0.85" stroke-width="0.7"/>
<circle cx="128.8" cy="259.7" r="1.15" fill="#2a1040" fill-opacity="0.72" stroke="#2a1040" stroke-opacity="0.85" stroke-width="0.7"/>
<circle cx="132.9" cy="259.7" r="1.45" fill="#2a1040" fill-opacity="0.72" stroke="#2a1040" stroke-opacity="0.85" stroke-width="0.7"/>
<circle cx="134.6" cy="259.7" r="1.45" fill="#2a1040" fill-opacity="0.72" stroke="#2a1040" stroke-opacity="0.85" stroke-width="0.7"/>
<circle cx="141.5" cy="259.7" r="1.65" fill="#3a2450" fill-opacity="0.58" stroke="#3a2450" stroke-opacity="0.75" stroke-width="0.7"/>
<circle cx="143.8" cy="259.7" r="1.65" fill="#2e3a8c" fill-opacity="0.55" stroke="#2e3a8c" stroke-opacity="0.7" stroke-width="0.7"/>
<circle cx="146.2" cy="259.7" r="1.65" fill="#2a1040" fill-opacity="0.72" stroke="#2a1040" stroke-opacity="0.85" stroke-width="0.7"/>
<circle cx="148.5" cy="259.7" r="1.65" fill="#2a1040" fill-opacity="0.72" stroke="#2a1040" stroke-opacity="0.85" stroke-width="0.7"/>
<circle cx="149.6" cy="259.7" r="1.65" fill="#2a1040" fill-opacity="0.72" stroke="#2a1040" stroke-opacity="0.85" stroke-width="0.7"/>
<circle cx="157.1" cy="259.7" r="1.65" fill="#4a3a66" fill-opacity="0.34" stroke="#4a3a66" stroke-opacity="0.52" stroke-width="0.7"/>
<circle cx="198.6" cy="232" r="2.95" fill="#3a2450" fill-opacity="0.58" stroke="#3a2450" stroke-opacity="0.75" stroke-width="0.7"/>
<circle cx="209.5" cy="229.7" r="1.85" fill="#4a3a66" fill-opacity="0.34" stroke="#4a3a66" stroke-opacity="0.52" stroke-width="0.7"/>
<circle cx="207.8" cy="235.8" r="2.55" fill="#4a3a66" fill-opacity="0.34" stroke="#4a3a66" stroke-opacity="0.52" stroke-width="0.7"/>
<circle cx="184.4" cy="238.2" r="2.25" fill="#4a3a66" fill-opacity="0.34" stroke="#4a3a66" stroke-opacity="0.52" stroke-width="0.7"/>
<circle cx="198.8" cy="237.8" r="1.45" fill="#4a3a66" fill-opacity="0.34" stroke="#4a3a66" stroke-opacity="0.52" stroke-width="0.7"/>
<circle cx="194.8" cy="239.5" r="1.85" fill="#4a5aa8" fill-opacity="0.4" stroke="#4a5aa8" stroke-opacity="0.55" stroke-width="0.7"/>
<circle cx="190.8" cy="242.4" r="2.15" fill="#4a3a66" fill-opacity="0.34" stroke="#4a3a66" stroke-opacity="0.52" stroke-width="0.7"/>
<circle cx="189" cy="245.3" r="1.95" fill="#4a3a66" fill-opacity="0.34" stroke="#4a3a66" stroke-opacity="0.52" stroke-width="0.7"/>
<circle cx="172.9" cy="244.2" r="2.25" fill="#4a3a66" fill-opacity="0.34" stroke="#4a3a66" stroke-opacity="0.52" stroke-width="0.7"/>
<circle cx="196" cy="247" r="1.85" fill="#4a3a66" fill-opacity="0.34" stroke="#4a3a66" stroke-opacity="0.52" stroke-width="0.7"/>
<circle cx="209.2" cy="247.6" r="2.85" fill="#6a80cc" fill-opacity="0.4" stroke="#6a80cc" stroke-opacity="0.5" stroke-width="0.7"/>
<circle cx="163.7" cy="248.5" r="1.95" fill="#4a3a66" fill-opacity="0.34" stroke="#4a3a66" stroke-opacity="0.52" stroke-width="0.7"/>
<circle cx="157.9" cy="249.9" r="1.95" fill="#4a3a66" fill-opacity="0.34" stroke="#4a3a66" stroke-opacity="0.52" stroke-width="0.7"/>
<circle cx="176.3" cy="250.5" r="2.45" fill="#4a3a66" fill-opacity="0.34" stroke="#4a3a66" stroke-opacity="0.52" stroke-width="0.7"/>
<circle cx="166.5" cy="252" r="1.95" fill="#4a5aa8" fill-opacity="0.4" stroke="#4a5aa8" stroke-opacity="0.55" stroke-width="0.7"/>
<circle cx="185" cy="252.6" r="1.95" fill="#4a3a66" fill-opacity="0.34" stroke="#4a3a66" stroke-opacity="0.52" stroke-width="0.7"/>
<circle cx="191.3" cy="251.1" r="1.95" fill="#4a3a66" fill-opacity="0.34" stroke="#4a3a66" stroke-opacity="0.52" stroke-width="0.7"/>
<circle cx="198.8" cy="252.2" r="2.15" fill="#2a1040" fill-opacity="0.72" stroke="#2a1040" stroke-opacity="0.85" stroke-width="0.7"/>
<circle cx="202" cy="252.2" r="2.15" fill="#2a1040" fill-opacity="0.72" stroke="#2a1040" stroke-opacity="0.85" stroke-width="0.7"/>
<circle cx="205" cy="252.5" r="2.15" fill="#2a1040" fill-opacity="0.72" stroke="#2a1040" stroke-opacity="0.85" stroke-width="0.7"/>
<circle cx="208" cy="252.5" r="2.15" fill="#2a1040" fill-opacity="0.72" stroke="#2a1040" stroke-opacity="0.85" stroke-width="0.7"/>
<circle cx="209.2" cy="252.2" r="2.15" fill="#2a1040" fill-opacity="0.72" stroke="#2a1040" stroke-opacity="0.85" stroke-width="0.7"/>
<circle cx="171.7" cy="255.3" r="1.95" fill="#3a2450" fill-opacity="0.58" stroke="#3a2450" stroke-opacity="0.75" stroke-width="0.7"/>
<circle cx="176.3" cy="254.5" r="2.15" fill="#2a1040" fill-opacity="0.72" stroke="#2a1040" stroke-opacity="0.85" stroke-width="0.7"/>
<circle cx="179.8" cy="257.4" r="1.95" fill="#2e3a8c" fill-opacity="0.55" stroke="#2e3a8c" stroke-opacity="0.7" stroke-width="0.7"/>
<circle cx="188.5" cy="258.6" r="1.95" fill="#2a1040" fill-opacity="0.72" stroke="#2a1040" stroke-opacity="0.85" stroke-width="0.7"/>
<circle cx="193.1" cy="255.7" r="1.95" fill="#3a2450" fill-opacity="0.58" stroke="#3a2450" stroke-opacity="0.75" stroke-width="0.7"/>
<circle cx="202.9" cy="258.6" r="1.95" fill="#2a1040" fill-opacity="0.72" stroke="#2a1040" stroke-opacity="0.85" stroke-width="0.7"/>
<circle cx="206.3" cy="258.9" r="1.95" fill="#2a1040" fill-opacity="0.72" stroke="#2a1040" stroke-opacity="0.85" stroke-width="0.7"/>
<circle cx="211.5" cy="258.6" r="1.95" fill="#2a1040" fill-opacity="0.72" stroke="#2a1040" stroke-opacity="0.85" stroke-width="0.7"/>
<circle cx="157.3" cy="259.7" r="1.45" fill="#2e3a8c" fill-opacity="0.55" stroke="#2e3a8c" stroke-opacity="0.7" stroke-width="0.7"/>
<circle cx="161.9" cy="259.2" r="1.65" fill="#4a3a66" fill-opacity="0.34" stroke="#4a3a66" stroke-opacity="0.52" stroke-width="0.7"/>
<circle cx="168.8" cy="258.2" r="1.45" fill="#2e3a8c" fill-opacity="0.55" stroke="#2e3a8c" stroke-opacity="0.7" stroke-width="0.7"/>
<circle cx="168.8" cy="262" r="0.95" fill="#4a3a66" fill-opacity="0.34" stroke="#4a3a66" stroke-opacity="0.52" stroke-width="0.7"/>
<circle cx="179.2" cy="262" r="0.95" fill="#4a3a66" fill-opacity="0.34" stroke="#4a3a66" stroke-opacity="0.52" stroke-width="0.7"/>
<circle cx="183.3" cy="262" r="0.95" fill="#4a3a66" fill-opacity="0.34" stroke="#4a3a66" stroke-opacity="0.52" stroke-width="0.7"/>
<circle cx="198.3" cy="261.5" r="0.95" fill="#4a3a66" fill-opacity="0.34" stroke="#4a3a66" stroke-opacity="0.52" stroke-width="0.7"/>
<circle cx="189" cy="261.5" r="0.95" fill="#4a3a66" fill-opacity="0.34" stroke="#4a3a66" stroke-opacity="0.52" stroke-width="0.7"/>
<circle cx="196.1" cy="212.7" r="2.15" fill="#4a3a66" fill-opacity="0.34" stroke="#4a3a66" stroke-opacity="0.52" stroke-width="0.7"/>
<circle cx="213.6" cy="208.1" r="2.85" fill="#3a2450" fill-opacity="0.58" stroke="#3a2450" stroke-opacity="0.75" stroke-width="0.7"/>
<circle cx="253.3" cy="239.5" r="2.25" fill="#4a3a66" fill-opacity="0.34" stroke="#4a3a66" stroke-opacity="0.52" stroke-width="0.7"/>
<circle cx="261.3" cy="240.7" r="1.85" fill="#4a3a66" fill-opacity="0.34" stroke="#4a3a66" stroke-opacity="0.52" stroke-width="0.7"/>
<circle cx="267.7" cy="245.3" r="1.95" fill="#4a3a66" fill-opacity="0.34" stroke="#4a3a66" stroke-opacity="0.52" stroke-width="0.7"/>
<circle cx="237.1" cy="243.6" r="1.95" fill="#4a3a66" fill-opacity="0.34" stroke="#4a3a66" stroke-opacity="0.52" stroke-width="0.7"/>
<circle cx="237.7" cy="247.6" r="1.95" fill="#4a3a66" fill-opacity="0.34" stroke="#4a3a66" stroke-opacity="0.52" stroke-width="0.7"/>
<circle cx="224.4" cy="245.3" r="2.15" fill="#4a3a66" fill-opacity="0.34" stroke="#4a3a66" stroke-opacity="0.52" stroke-width="0.7"/>
<circle cx="219" cy="247.6" r="2.85" fill="#6a80cc" fill-opacity="0.4" stroke="#6a80cc" stroke-opacity="0.5" stroke-width="0.7"/>
<circle cx="210" cy="247" r="2.15" fill="#4a5aa8" fill-opacity="0.4" stroke="#4a5aa8" stroke-opacity="0.55" stroke-width="0.7"/>
<circle cx="241.2" cy="252.5" r="1.95" fill="#4a3a66" fill-opacity="0.34" stroke="#4a3a66" stroke-opacity="0.52" stroke-width="0.7"/>
<circle cx="229.6" cy="252.2" r="1.45" fill="#4a3a66" fill-opacity="0.34" stroke="#4a3a66" stroke-opacity="0.52" stroke-width="0.7"/>
<circle cx="218.1" cy="254" r="1.85" fill="#2e3a8c" fill-opacity="0.55" stroke="#2e3a8c" stroke-opacity="0.7" stroke-width="0.7"/>
<circle cx="225.6" cy="255.1" r="1.95" fill="#2e3a8c" fill-opacity="0.55" stroke="#2e3a8c" stroke-opacity="0.7" stroke-width="0.7"/>
<circle cx="222.7" cy="256.3" r="1.85" fill="#4a5aa8" fill-opacity="0.4" stroke="#4a5aa8" stroke-opacity="0.55" stroke-width="0.7"/>
<circle cx="231.3" cy="257.4" r="1.95" fill="#3a3270" fill-opacity="0.6" stroke="#3a3270" stroke-opacity="0.75" stroke-width="0.7"/>
<circle cx="235" cy="257.4" r="1.95" fill="#3a3270" fill-opacity="0.6" stroke="#3a3270" stroke-opacity="0.75" stroke-width="0.7"/>
<circle cx="238.5" cy="257.4" r="1.95" fill="#3a3270" fill-opacity="0.6" stroke="#3a3270" stroke-opacity="0.75" stroke-width="0.7"/>
<circle cx="242" cy="257.4" r="1.95" fill="#3a3270" fill-opacity="0.6" stroke="#3a3270" stroke-opacity="0.75" stroke-width="0.7"/>
<circle cx="245.8" cy="257.4" r="1.95" fill="#3a3270" fill-opacity="0.6" stroke="#3a3270" stroke-opacity="0.75" stroke-width="0.7"/>
<circle cx="200" cy="255" r="1.95" fill="#3a2450" fill-opacity="0.58" stroke="#3a2450" stroke-opacity="0.75" stroke-width="0.7"/>
<circle cx="203" cy="256" r="1.95" fill="#3a2450" fill-opacity="0.58" stroke="#3a2450" stroke-opacity="0.75" stroke-width="0.7"/>
<circle cx="207" cy="255.5" r="1.95" fill="#3a2450" fill-opacity="0.58" stroke="#3a2450" stroke-opacity="0.75" stroke-width="0.7"/>
<circle cx="211" cy="255" r="1.95" fill="#3a2450" fill-opacity="0.58" stroke="#3a2450" stroke-opacity="0.75" stroke-width="0.7"/>
<circle cx="214" cy="253" r="1.85" fill="#3a2450" fill-opacity="0.58" stroke="#3a2450" stroke-opacity="0.75" stroke-width="0.7"/>
<circle cx="205" cy="260.5" r="1.65" fill="#2a1040" fill-opacity="0.72" stroke="#2a1040" stroke-opacity="0.85" stroke-width="0.7"/>
<circle cx="209" cy="261" r="1.65" fill="#3a2450" fill-opacity="0.58" stroke="#3a2450" stroke-opacity="0.75" stroke-width="0.7"/>
<circle cx="214" cy="259.5" r="1.65" fill="#3a2450" fill-opacity="0.58" stroke="#3a2450" stroke-opacity="0.75" stroke-width="0.7"/>
<circle cx="212.3" cy="258.6" r="1.85" fill="#2a1040" fill-opacity="0.72" stroke="#2a1040" stroke-opacity="0.85" stroke-width="0.7"/>
<circle cx="218.7" cy="259.2" r="1.65" fill="#4a3a66" fill-opacity="0.34" stroke="#4a3a66" stroke-opacity="0.52" stroke-width="0.7"/>
<circle cx="226.2" cy="259.7" r="1.65" fill="#4a3a66" fill-opacity="0.34" stroke="#4a3a66" stroke-opacity="0.52" stroke-width="0.7"/>
<circle cx="258.5" cy="259.7" r="1.95" fill="#2a1040" fill-opacity="0.72" stroke="#2a1040" stroke-opacity="0.85" stroke-width="0.7"/>
<circle cx="261.3" cy="257.4" r="1.25" fill="#4a3a66" fill-opacity="0.34" stroke="#4a3a66" stroke-opacity="0.52" stroke-width="0.7"/>
<circle cx="227.3" cy="262" r="0.95" fill="#4a3a66" fill-opacity="0.34" stroke="#4a3a66" stroke-opacity="0.52" stroke-width="0.7"/>
<circle cx="232.9" cy="262" r="0.95" fill="#4a3a66" fill-opacity="0.34" stroke="#4a3a66" stroke-opacity="0.52" stroke-width="0.7"/>
<circle cx="241.2" cy="262" r="0.95" fill="#2a1040" fill-opacity="0.72" stroke="#2a1040" stroke-opacity="0.85" stroke-width="0.7"/>
<circle cx="246.9" cy="262" r="0.95" fill="#2a1040" fill-opacity="0.72" stroke="#2a1040" stroke-opacity="0.85" stroke-width="0.7"/>
<circle cx="250.9" cy="262" r="0.95" fill="#2a1040" fill-opacity="0.72" stroke="#2a1040" stroke-opacity="0.85" stroke-width="0.7"/>
<circle cx="253.3" cy="262" r="0.95" fill="#2a1040" fill-opacity="0.72" stroke="#2a1040" stroke-opacity="0.85" stroke-width="0.7"/>
<circle cx="257.3" cy="262" r="0.95" fill="#2a1040" fill-opacity="0.72" stroke="#2a1040" stroke-opacity="0.85" stroke-width="0.7"/>
<circle cx="263.7" cy="262" r="0.95" fill="#2a1040" fill-opacity="0.72" stroke="#2a1040" stroke-opacity="0.85" stroke-width="0.7"/>
<circle cx="267.7" cy="262" r="0.95" fill="#2a1040" fill-opacity="0.72" stroke="#2a1040" stroke-opacity="0.85" stroke-width="0.7"/>
<circle cx="273.7" cy="228.6" r="1.85" fill="#4a3a66" fill-opacity="0.34" stroke="#4a3a66" stroke-opacity="0.52" stroke-width="0.7"/>
<circle cx="284" cy="231.2" r="2.25" fill="#4a3a66" fill-opacity="0.34" stroke="#4a3a66" stroke-opacity="0.52" stroke-width="0.7"/>
<circle cx="310" cy="233.2" r="2.15" fill="#4a5aa8" fill-opacity="0.4" stroke="#4a5aa8" stroke-opacity="0.55" stroke-width="0.7"/>
<circle cx="313.2" cy="237" r="2.15" fill="#4a5aa8" fill-opacity="0.4" stroke="#4a5aa8" stroke-opacity="0.55" stroke-width="0.7"/>
<circle cx="318.1" cy="237.2" r="2.15" fill="#4a5aa8" fill-opacity="0.4" stroke="#4a5aa8" stroke-opacity="0.55" stroke-width="0.7"/>
<circle cx="267.9" cy="245.3" r="1.95" fill="#4a3a66" fill-opacity="0.34" stroke="#4a3a66" stroke-opacity="0.52" stroke-width="0.7"/>
<circle cx="303.4" cy="244.2" r="2.25" fill="#4a3a66" fill-opacity="0.34" stroke="#4a3a66" stroke-opacity="0.52" stroke-width="0.7"/>
<circle cx="317.2" cy="244.7" r="2.65" fill="#4a3a66" fill-opacity="0.34" stroke="#4a3a66" stroke-opacity="0.52" stroke-width="0.7"/>
<circle cx="321.5" cy="248.8" r="1.45" fill="#4a3a66" fill-opacity="0.34" stroke="#4a3a66" stroke-opacity="0.52" stroke-width="0.7"/>
<circle cx="295" cy="250.5" r="1.95" fill="#4aa0f0" fill-opacity="0.45" stroke="#4aa0f0" stroke-opacity="0.6" stroke-width="0.7"/>
<circle cx="303.7" cy="252.8" r="2.65" fill="#4a3a66" fill-opacity="0.34" stroke="#4a3a66" stroke-opacity="0.52" stroke-width="0.7"/>
<circle cx="307.7" cy="255.1" r="1.95" fill="#4a3a66" fill-opacity="0.34" stroke="#4a3a66" stroke-opacity="0.52" stroke-width="0.7"/>
<circle cx="292.5" cy="256.6" r="1.95" fill="#20b0e0" fill-opacity="0.7" stroke="#20b0e0" stroke-opacity="0.85" stroke-width="0.7"/>
<circle cx="297" cy="256.6" r="1.95" fill="#20b0e0" fill-opacity="0.7" stroke="#20b0e0" stroke-opacity="0.85" stroke-width="0.7"/>
<circle cx="276.5" cy="256.8" r="1.95" fill="#3a2450" fill-opacity="0.58" stroke="#3a2450" stroke-opacity="0.75" stroke-width="0.7"/>
<circle cx="319.2" cy="254.5" r="1.95" fill="#2e8ce8" fill-opacity="0.62" stroke="#2e8ce8" stroke-opacity="0.78" stroke-width="0.7"/>
<circle cx="321" cy="254.5" r="1.85" fill="#4a3a66" fill-opacity="0.34" stroke="#4a3a66" stroke-opacity="0.52" stroke-width="0.7"/>
<circle cx="324.4" cy="256.3" r="1.85" fill="#4aa0f0" fill-opacity="0.45" stroke="#4aa0f0" stroke-opacity="0.6" stroke-width="0.7"/>
<circle cx="315.8" cy="257.4" r="1.65" fill="#4a3a66" fill-opacity="0.34" stroke="#4a3a66" stroke-opacity="0.52" stroke-width="0.7"/>
<circle cx="283.5" cy="258.6" r="1.25" fill="#4a3a66" fill-opacity="0.34" stroke="#4a3a66" stroke-opacity="0.52" stroke-width="0.7"/>
<circle cx="289.5" cy="258.6" r="1.25" fill="#4a3a66" fill-opacity="0.34" stroke="#4a3a66" stroke-opacity="0.52" stroke-width="0.7"/>
<circle cx="272.5" cy="259.7" r="1.95" fill="#2a1040" fill-opacity="0.72" stroke="#2a1040" stroke-opacity="0.85" stroke-width="0.7"/>
<circle cx="293.3" cy="260.3" r="1.85" fill="#2a1040" fill-opacity="0.72" stroke="#2a1040" stroke-opacity="0.85" stroke-width="0.7"/>
<circle cx="297.3" cy="260.3" r="1.85" fill="#2a1040" fill-opacity="0.72" stroke="#2a1040" stroke-opacity="0.85" stroke-width="0.7"/>
<circle cx="303.7" cy="260.3" r="1.85" fill="#2a1040" fill-opacity="0.72" stroke="#2a1040" stroke-opacity="0.85" stroke-width="0.7"/>
<circle cx="308.8" cy="261.5" r="1.65" fill="#2e3a8c" fill-opacity="0.55" stroke="#2e3a8c" stroke-opacity="0.7" stroke-width="0.7"/>
<circle cx="320.4" cy="260.9" r="1.65" fill="#2e3a8c" fill-opacity="0.55" stroke="#2e3a8c" stroke-opacity="0.7" stroke-width="0.7"/>
<circle cx="315.2" cy="261.2" r="1.65" fill="#4a3a66" fill-opacity="0.34" stroke="#4a3a66" stroke-opacity="0.52" stroke-width="0.7"/>
<circle cx="265" cy="262" r="1.15" fill="#2a1040" fill-opacity="0.72" stroke="#2a1040" stroke-opacity="0.85" stroke-width="0.7"/>
<circle cx="268" cy="262" r="1.15" fill="#2a1040" fill-opacity="0.72" stroke="#2a1040" stroke-opacity="0.85" stroke-width="0.7"/>
<circle cx="271" cy="262" r="1.15" fill="#2a1040" fill-opacity="0.72" stroke="#2a1040" stroke-opacity="0.85" stroke-width="0.7"/>
<circle cx="274" cy="262" r="1.15" fill="#2a1040" fill-opacity="0.72" stroke="#2a1040" stroke-opacity="0.85" stroke-width="0.7"/>
<circle cx="277" cy="262" r="1.15" fill="#2a1040" fill-opacity="0.72" stroke="#2a1040" stroke-opacity="0.85" stroke-width="0.7"/>
<circle cx="280" cy="262" r="1.15" fill="#2a1040" fill-opacity="0.72" stroke="#2a1040" stroke-opacity="0.85" stroke-width="0.7"/>
<circle cx="330.4" cy="236.1" r="1.95" fill="#4a3a66" fill-opacity="0.34" stroke="#4a3a66" stroke-opacity="0.52" stroke-width="0.7"/>
<circle cx="340.2" cy="236.1" r="1.95" fill="#4a3a66" fill-opacity="0.34" stroke="#4a3a66" stroke-opacity="0.52" stroke-width="0.7"/>
<circle cx="341.3" cy="242.8" r="1.95" fill="#4a3a66" fill-opacity="0.34" stroke="#4a3a66" stroke-opacity="0.52" stroke-width="0.7"/>
<circle cx="340.2" cy="245.9" r="1.95" fill="#4a3a66" fill-opacity="0.34" stroke="#4a3a66" stroke-opacity="0.52" stroke-width="0.7"/>
<circle cx="329.2" cy="245.3" r="1.95" fill="#4a3a66" fill-opacity="0.34" stroke="#4a3a66" stroke-opacity="0.52" stroke-width="0.7"/>
<circle cx="326.3" cy="248.2" r="1.95" fill="#4a3a66" fill-opacity="0.34" stroke="#4a3a66" stroke-opacity="0.52" stroke-width="0.7"/>
<circle cx="328.1" cy="249.3" r="1.95" fill="#4a3a66" fill-opacity="0.34" stroke="#4a3a66" stroke-opacity="0.52" stroke-width="0.7"/>
<circle cx="321.7" cy="248.8" r="1.95" fill="#4a3a66" fill-opacity="0.34" stroke="#4a3a66" stroke-opacity="0.52" stroke-width="0.7"/>
<circle cx="321.2" cy="254.5" r="1.85" fill="#3a2450" fill-opacity="0.58" stroke="#3a2450" stroke-opacity="0.75" stroke-width="0.7"/>
<circle cx="324.6" cy="256.6" r="1.85" fill="#4aa0f0" fill-opacity="0.45" stroke="#4aa0f0" stroke-opacity="0.6" stroke-width="0.7"/>
<circle cx="361.5" cy="239" r="1.95" fill="#4a3a66" fill-opacity="0.34" stroke="#4a3a66" stroke-opacity="0.52" stroke-width="0.7"/>
<circle cx="368.5" cy="235.5" r="1.95" fill="#4a3a66" fill-opacity="0.34" stroke="#4a3a66" stroke-opacity="0.52" stroke-width="0.7"/>
<circle cx="371.3" cy="235.5" r="1.95" fill="#4a3a66" fill-opacity="0.34" stroke="#4a3a66" stroke-opacity="0.52" stroke-width="0.7"/>
<circle cx="373.7" cy="235.5" r="1.95" fill="#4a3a66" fill-opacity="0.34" stroke="#4a3a66" stroke-opacity="0.52" stroke-width="0.7"/>
<circle cx="349.4" cy="245.9" r="1.95" fill="#3a2450" fill-opacity="0.58" stroke="#3a2450" stroke-opacity="0.75" stroke-width="0.7"/>
<circle cx="349.4" cy="248.8" r="1.85" fill="#4aa0f0" fill-opacity="0.45" stroke="#4aa0f0" stroke-opacity="0.6" stroke-width="0.7"/>
<circle cx="373.7" cy="245.3" r="1.95" fill="#4a3a66" fill-opacity="0.34" stroke="#4a3a66" stroke-opacity="0.52" stroke-width="0.7"/>
<circle cx="360.4" cy="255.1" r="1.85" fill="#4aa0f0" fill-opacity="0.45" stroke="#4aa0f0" stroke-opacity="0.6" stroke-width="0.7"/>
<circle cx="368.5" cy="255.5" r="1.85" fill="#4aa0f0" fill-opacity="0.45" stroke="#4aa0f0" stroke-opacity="0.6" stroke-width="0.7"/>
<circle cx="344.5" cy="255.1" r="1.85" fill="#4aa0f0" fill-opacity="0.45" stroke="#4aa0f0" stroke-opacity="0.6" stroke-width="0.7"/>
<circle cx="374.5" cy="254.5" r="2.15" fill="#2a1040" fill-opacity="0.72" stroke="#2a1040" stroke-opacity="0.85" stroke-width="0.7"/>
<circle cx="377" cy="254.5" r="2.15" fill="#2a1040" fill-opacity="0.72" stroke="#2a1040" stroke-opacity="0.85" stroke-width="0.7"/>
<circle cx="380" cy="254.5" r="2.15" fill="#2a1040" fill-opacity="0.72" stroke="#2a1040" stroke-opacity="0.85" stroke-width="0.7"/>
<circle cx="325" cy="261" r="1.65" fill="#2a1040" fill-opacity="0.72" stroke="#2a1040" stroke-opacity="0.85" stroke-width="0.7"/>
<circle cx="328" cy="261" r="1.65" fill="#2a1040" fill-opacity="0.72" stroke="#2a1040" stroke-opacity="0.85" stroke-width="0.7"/>
<circle cx="331" cy="260.5" r="1.65" fill="#2a1040" fill-opacity="0.72" stroke="#2a1040" stroke-opacity="0.85" stroke-width="0.7"/>
<circle cx="334" cy="260.5" r="1.85" fill="#2a1040" fill-opacity="0.72" stroke="#2a1040" stroke-opacity="0.85" stroke-width="0.7"/>
<circle cx="337" cy="260.3" r="1.85" fill="#2a1040" fill-opacity="0.72" stroke="#2a1040" stroke-opacity="0.85" stroke-width="0.7"/>
<circle cx="340" cy="260.3" r="1.85" fill="#2a1040" fill-opacity="0.72" stroke="#2a1040" stroke-opacity="0.85" stroke-width="0.7"/>
<circle cx="342" cy="261" r="1.65" fill="#2a1040" fill-opacity="0.72" stroke="#2a1040" stroke-opacity="0.85" stroke-width="0.7"/>
<circle cx="347.7" cy="259.7" r="1.65" fill="#4a3a66" fill-opacity="0.34" stroke="#4a3a66" stroke-opacity="0.52" stroke-width="0.7"/>
<circle cx="351.2" cy="260.9" r="1.65" fill="#4a3a66" fill-opacity="0.34" stroke="#4a3a66" stroke-opacity="0.52" stroke-width="0.7"/>
<circle cx="354.6" cy="261.5" r="1.65" fill="#2e3a8c" fill-opacity="0.55" stroke="#2e3a8c" stroke-opacity="0.7" stroke-width="0.7"/>
<circle cx="357.5" cy="261.2" r="1.65" fill="#2e3a8c" fill-opacity="0.55" stroke="#2e3a8c" stroke-opacity="0.7" stroke-width="0.7"/>
<circle cx="363.8" cy="259.7" r="1.15" fill="#2a1040" fill-opacity="0.72" stroke="#2a1040" stroke-opacity="0.85" stroke-width="0.7"/>
<circle cx="369.6" cy="261.7" r="1.45" fill="#2a1040" fill-opacity="0.72" stroke="#2a1040" stroke-opacity="0.85" stroke-width="0.7"/>
<circle cx="345.4" cy="262" r="0.95" fill="#2e3a8c" fill-opacity="0.55" stroke="#2e3a8c" stroke-opacity="0.7" stroke-width="0.7"/>
<circle cx="386.3" cy="236.1" r="2.15" fill="#4a3a66" fill-opacity="0.34" stroke="#4a3a66" stroke-opacity="0.52" stroke-width="0.7"/>
<circle cx="395.8" cy="234.9" r="2.15" fill="#4a5aa8" fill-opacity="0.4" stroke="#4a5aa8" stroke-opacity="0.55" stroke-width="0.7"/>
<circle cx="414.2" cy="239" r="2.05" fill="#4a3a66" fill-opacity="0.34" stroke="#4a3a66" stroke-opacity="0.52" stroke-width="0.7"/>
<circle cx="425.8" cy="236.7" r="2.05" fill="#4a3a66" fill-opacity="0.34" stroke="#4a3a66" stroke-opacity="0.52" stroke-width="0.7"/>
<circle cx="429.8" cy="233.2" r="2.25" fill="#4a5aa8" fill-opacity="0.4" stroke="#4a5aa8" stroke-opacity="0.55" stroke-width="0.7"/>
<circle cx="427.5" cy="228" r="1.85" fill="#4a3a66" fill-opacity="0.34" stroke="#4a3a66" stroke-opacity="0.52" stroke-width="0.7"/>
<circle cx="390" cy="241.8" r="1.95" fill="#4a3a66" fill-opacity="0.34" stroke="#4a3a66" stroke-opacity="0.52" stroke-width="0.7"/>
<circle cx="396.3" cy="244.2" r="2.15" fill="#2a1040" fill-opacity="0.72" stroke="#2a1040" stroke-opacity="0.85" stroke-width="0.7"/>
<circle cx="398.7" cy="244.2" r="2.15" fill="#2a1040" fill-opacity="0.72" stroke="#2a1040" stroke-opacity="0.85" stroke-width="0.7"/>
<circle cx="403.8" cy="242.4" r="2.15" fill="#2e3a8c" fill-opacity="0.55" stroke="#2e3a8c" stroke-opacity="0.7" stroke-width="0.7"/>
<circle cx="407.3" cy="240.9" r="1.95" fill="#4a3a66" fill-opacity="0.34" stroke="#4a3a66" stroke-opacity="0.52" stroke-width="0.7"/>
<circle cx="413.1" cy="245.1" r="1.95" fill="#4a3a66" fill-opacity="0.34" stroke="#4a3a66" stroke-opacity="0.52" stroke-width="0.7"/>
<circle cx="414.8" cy="244.7" r="1.85" fill="#40c0e0" fill-opacity="0.45" stroke="#40c0e0" stroke-opacity="0.6" stroke-width="0.7"/>
<circle cx="392.9" cy="245.3" r="1.95" fill="#4a3a66" fill-opacity="0.34" stroke="#4a3a66" stroke-opacity="0.52" stroke-width="0.7"/>
<circle cx="380.8" cy="246.2" r="1.95" fill="#4a3a66" fill-opacity="0.34" stroke="#4a3a66" stroke-opacity="0.52" stroke-width="0.7"/>
<circle cx="386" cy="248.8" r="1.85" fill="#2848a0" fill-opacity="0.75" stroke="#2848a0" stroke-opacity="0.85" stroke-width="0.7"/>
<circle cx="377.9" cy="247.4" r="1.65" fill="#4aa0f0" fill-opacity="0.45" stroke="#4aa0f0" stroke-opacity="0.6" stroke-width="0.7"/>
<circle cx="402.7" cy="249.3" r="1.85" fill="#4a3a66" fill-opacity="0.34" stroke="#4a3a66" stroke-opacity="0.52" stroke-width="0.7"/>
<circle cx="405.6" cy="250.5" r="1.85" fill="#4aa0f0" fill-opacity="0.45" stroke="#4aa0f0" stroke-opacity="0.6" stroke-width="0.7"/>
<circle cx="396.9" cy="250.5" r="1.95" fill="#3a2450" fill-opacity="0.58" stroke="#3a2450" stroke-opacity="0.75" stroke-width="0.7"/>
<circle cx="420.6" cy="247" r="2.15" fill="#2a1040" fill-opacity="0.72" stroke="#2a1040" stroke-opacity="0.85" stroke-width="0.7"/>
<circle cx="423.5" cy="247.6" r="2.15" fill="#3a2450" fill-opacity="0.58" stroke="#3a2450" stroke-opacity="0.75" stroke-width="0.7"/>
<circle cx="418.3" cy="248.8" r="1.95" fill="#3a2450" fill-opacity="0.58" stroke="#3a2450" stroke-opacity="0.75" stroke-width="0.7"/>
<circle cx="415.4" cy="251.7" r="1.85" fill="#4a3a66" fill-opacity="0.34" stroke="#4a3a66" stroke-opacity="0.52" stroke-width="0.7"/>
<circle cx="428.1" cy="253.4" r="1.95" fill="#3a2450" fill-opacity="0.58" stroke="#3a2450" stroke-opacity="0.75" stroke-width="0.7"/>
<circle cx="377.9" cy="251.7" r="1.65" fill="#4aa0f0" fill-opacity="0.45" stroke="#4aa0f0" stroke-opacity="0.6" stroke-width="0.7"/>
<circle cx="375" cy="254.5" r="2.15" fill="#2a1040" fill-opacity="0.72" stroke="#2a1040" stroke-opacity="0.85" stroke-width="0.7"/>
<circle cx="378" cy="254.5" r="2.15" fill="#2a1040" fill-opacity="0.72" stroke="#2a1040" stroke-opacity="0.85" stroke-width="0.7"/>
<circle cx="381" cy="254.5" r="2.15" fill="#2a1040" fill-opacity="0.72" stroke="#2a1040" stroke-opacity="0.85" stroke-width="0.7"/>
<circle cx="384" cy="254.5" r="2.15" fill="#2a1040" fill-opacity="0.72" stroke="#2a1040" stroke-opacity="0.85" stroke-width="0.7"/>
<circle cx="389.4" cy="254.5" r="1.95" fill="#4a3a66" fill-opacity="0.34" stroke="#4a3a66" stroke-opacity="0.52" stroke-width="0.7"/>
<circle cx="395.8" cy="255.5" r="1.95" fill="#2a1040" fill-opacity="0.72" stroke="#2a1040" stroke-opacity="0.85" stroke-width="0.7"/>
<circle cx="402.1" cy="255.5" r="1.95" fill="#4a3a66" fill-opacity="0.34" stroke="#4a3a66" stroke-opacity="0.52" stroke-width="0.7"/>
<circle cx="407.3" cy="255.1" r="1.95" fill="#4a3a66" fill-opacity="0.34" stroke="#4a3a66" stroke-opacity="0.52" stroke-width="0.7"/>
<circle cx="409.6" cy="255.7" r="1.95" fill="#3a2450" fill-opacity="0.58" stroke="#3a2450" stroke-opacity="0.75" stroke-width="0.7"/>
<circle cx="415.4" cy="255.9" r="1.95" fill="#2a1040" fill-opacity="0.72" stroke="#2a1040" stroke-opacity="0.85" stroke-width="0.7"/>
<circle cx="379.6" cy="259.7" r="1.85" fill="#4a3a66" fill-opacity="0.34" stroke="#4a3a66" stroke-opacity="0.52" stroke-width="0.7"/>
<circle cx="387.7" cy="259.2" r="1.65" fill="#4a3a66" fill-opacity="0.34" stroke="#4a3a66" stroke-opacity="0.52" stroke-width="0.7"/>
<circle cx="392.3" cy="258.9" r="1.65" fill="#4a3a66" fill-opacity="0.34" stroke="#4a3a66" stroke-opacity="0.52" stroke-width="0.7"/>
<circle cx="396.3" cy="260.3" r="1.85" fill="#2a1040" fill-opacity="0.72" stroke="#2a1040" stroke-opacity="0.85" stroke-width="0.7"/>
<circle cx="403.8" cy="258" r="1.65" fill="#4a3a66" fill-opacity="0.34" stroke="#4a3a66" stroke-opacity="0.52" stroke-width="0.7"/>
<circle cx="420" cy="259.2" r="1.25" fill="#4a3a66" fill-opacity="0.34" stroke="#4a3a66" stroke-opacity="0.52" stroke-width="0.7"/>
<circle cx="430.4" cy="258.2" r="1.65" fill="#4a3a66" fill-opacity="0.34" stroke="#4a3a66" stroke-opacity="0.52" stroke-width="0.7"/>
<circle cx="411" cy="261.5" r="1.65" fill="#2a1040" fill-opacity="0.72" stroke="#2a1040" stroke-opacity="0.85" stroke-width="0.7"/>
<circle cx="413.5" cy="261.5" r="1.65" fill="#2a1040" fill-opacity="0.72" stroke="#2a1040" stroke-opacity="0.85" stroke-width="0.7"/>
<circle cx="416.5" cy="261.5" r="1.65" fill="#2a1040" fill-opacity="0.72" stroke="#2a1040" stroke-opacity="0.85" stroke-width="0.7"/>
<circle cx="386" cy="261.7" r="1.15" fill="#4aa0f0" fill-opacity="0.45" stroke="#4aa0f0" stroke-opacity="0.6" stroke-width="0.7"/>
<circle cx="388.8" cy="262.4" r="1.15" fill="#4aa0f0" fill-opacity="0.45" stroke="#4aa0f0" stroke-opacity="0.6" stroke-width="0.7"/>
<circle cx="406.7" cy="260.9" r="1.15" fill="#4a3a66" fill-opacity="0.34" stroke="#4a3a66" stroke-opacity="0.52" stroke-width="0.7"/>
<circle cx="427.9" cy="227.5" r="2.05" fill="#4a3a66" fill-opacity="0.34" stroke="#4a3a66" stroke-opacity="0.52" stroke-width="0.7"/>
<circle cx="429.6" cy="233.3" r="2.25" fill="#4a3a66" fill-opacity="0.34" stroke="#4a3a66" stroke-opacity="0.52" stroke-width="0.7"/>
<circle cx="426.2" cy="236.7" r="1.85" fill="#4a3a66" fill-opacity="0.34" stroke="#4a3a66" stroke-opacity="0.52" stroke-width="0.7"/>
<circle cx="436.9" cy="230.2" r="1.95" fill="#4a3a66" fill-opacity="0.34" stroke="#4a3a66" stroke-opacity="0.52" stroke-width="0.7"/>
<circle cx="439.4" cy="237.5" r="3.05" fill="#4a3a66" fill-opacity="0.34" stroke="#4a3a66" stroke-opacity="0.52" stroke-width="0.7"/>
<circle cx="444" cy="242.8" r="1.85" fill="#4a3a66" fill-opacity="0.34" stroke="#4a3a66" stroke-opacity="0.52" stroke-width="0.7"/>
<circle cx="446.9" cy="237.9" r="1.85" fill="#4a3a66" fill-opacity="0.34" stroke="#4a3a66" stroke-opacity="0.52" stroke-width="0.7"/>
<circle cx="449.8" cy="239.4" r="2.15" fill="#3a2450" fill-opacity="0.58" stroke="#3a2450" stroke-opacity="0.75" stroke-width="0.7"/>
<circle cx="455" cy="238.7" r="2.15" fill="#3a2450" fill-opacity="0.58" stroke="#3a2450" stroke-opacity="0.75" stroke-width="0.7"/>
<circle cx="457.5" cy="237.5" r="1.95" fill="#4a3a66" fill-opacity="0.34" stroke="#4a3a66" stroke-opacity="0.52" stroke-width="0.7"/>
<circle cx="459" cy="245.2" r="1.25" fill="#4a3a66" fill-opacity="0.34" stroke="#4a3a66" stroke-opacity="0.52" stroke-width="0.7"/>
<circle cx="425.6" cy="247.5" r="1.95" fill="#3a2450" fill-opacity="0.58" stroke="#3a2450" stroke-opacity="0.75" stroke-width="0.7"/>
<circle cx="461.9" cy="252.9" r="1.85" fill="#3a2450" fill-opacity="0.58" stroke="#3a2450" stroke-opacity="0.75" stroke-width="0.7"/>
<circle cx="427.9" cy="254" r="1.95" fill="#4a3a66" fill-opacity="0.34" stroke="#4a3a66" stroke-opacity="0.52" stroke-width="0.7"/>
<circle cx="432" cy="254.4" r="1.95" fill="#3a2450" fill-opacity="0.58" stroke="#3a2450" stroke-opacity="0.75" stroke-width="0.7"/>
<circle cx="436" cy="254.4" r="1.95" fill="#2a1040" fill-opacity="0.72" stroke="#2a1040" stroke-opacity="0.85" stroke-width="0.7"/>
<circle cx="439" cy="254.4" r="1.95" fill="#2a1040" fill-opacity="0.72" stroke="#2a1040" stroke-opacity="0.85" stroke-width="0.7"/>
<circle cx="442" cy="254.4" r="1.95" fill="#2a1040" fill-opacity="0.72" stroke="#2a1040" stroke-opacity="0.85" stroke-width="0.7"/>
<circle cx="431.3" cy="256.9" r="1.85" fill="#4a3a66" fill-opacity="0.34" stroke="#4a3a66" stroke-opacity="0.52" stroke-width="0.7"/>
<circle cx="430.2" cy="259.2" r="1.85" fill="#4a3a66" fill-opacity="0.34" stroke="#4a3a66" stroke-opacity="0.52" stroke-width="0.7"/>
<circle cx="437.1" cy="260.2" r="1.25" fill="#2a1040" fill-opacity="0.72" stroke="#2a1040" stroke-opacity="0.85" stroke-width="0.7"/>
<circle cx="440" cy="258.1" r="1.65" fill="#3a2450" fill-opacity="0.58" stroke="#3a2450" stroke-opacity="0.75" stroke-width="0.7"/>
<circle cx="442.3" cy="261.5" r="1.65" fill="#4a3a66" fill-opacity="0.34" stroke="#4a3a66" stroke-opacity="0.52" stroke-width="0.7"/>
<circle cx="446.3" cy="261" r="1.15" fill="#4aa0f0" fill-opacity="0.45" stroke="#4aa0f0" stroke-opacity="0.6" stroke-width="0.7"/>
<circle cx="449.2" cy="260.4" r="1.65" fill="#4a3a66" fill-opacity="0.34" stroke="#4a3a66" stroke-opacity="0.52" stroke-width="0.7"/>
<circle cx="449.8" cy="254.6" r="1.95" fill="#4a3a66" fill-opacity="0.34" stroke="#4a3a66" stroke-opacity="0.52" stroke-width="0.7"/>
<circle cx="452.1" cy="257.5" r="1.85" fill="#3a2450" fill-opacity="0.58" stroke="#3a2450" stroke-opacity="0.75" stroke-width="0.7"/>
<circle cx="454.4" cy="254" r="1.85" fill="#4a3a66" fill-opacity="0.34" stroke="#4a3a66" stroke-opacity="0.52" stroke-width="0.7"/>
<circle cx="456.7" cy="256.9" r="1.95" fill="#3a2450" fill-opacity="0.58" stroke="#3a2450" stroke-opacity="0.75" stroke-width="0.7"/>
<circle cx="459.6" cy="257.5" r="1.85" fill="#4a3a66" fill-opacity="0.34" stroke="#4a3a66" stroke-opacity="0.52" stroke-width="0.7"/>
<circle cx="448.1" cy="257.5" r="1.85" fill="#4a3a66" fill-opacity="0.34" stroke="#4a3a66" stroke-opacity="0.52" stroke-width="0.7"/>
<circle cx="459.6" cy="254.6" r="1.25" fill="#4a3a66" fill-opacity="0.34" stroke="#4a3a66" stroke-opacity="0.52" stroke-width="0.7"/>
<circle cx="72.5" cy="460.4" r="2.05" fill="#a8e060" fill-opacity="0.85" stroke="#a8e060" stroke-width="0.7"/>
<circle cx="77.9" cy="460.4" r="2.05" fill="#a8e060" fill-opacity="0.85" stroke="#a8e060" stroke-width="0.7"/>
<circle cx="103.3" cy="451" r="2.05" fill="#a8e060" fill-opacity="0.85" stroke="#a8e060" stroke-width="0.7"/>
<circle cx="102.7" cy="459.6" r="2.05" fill="#48e890" fill-opacity="0.85" stroke="#48e890" stroke-width="0.7"/>
<circle cx="91.2" cy="466.2" r="2.05" fill="#f08a30" fill-opacity="0.85" stroke="#f08a30" stroke-width="0.7"/>
<circle cx="93.7" cy="464.2" r="2.05" fill="#a8e060" fill-opacity="0.85" stroke="#a8e060" stroke-width="0.7"/>
<circle cx="96.5" cy="465.8" r="2.05" fill="#48e890" fill-opacity="0.85" stroke="#48e890" stroke-width="0.7"/>
<circle cx="98.5" cy="466.2" r="2.05" fill="#48e890" fill-opacity="0.85" stroke="#48e890" stroke-width="0.7"/>
<circle cx="100" cy="469.2" r="2.05" fill="#f0b030" fill-opacity="0.85" stroke="#f0b030" stroke-width="0.7"/>
<circle cx="106.5" cy="468.3" r="2.05" fill="#e05020" fill-opacity="0.85" stroke="#e05020" stroke-width="0.7"/>
<circle cx="109.6" cy="464.8" r="2.05" fill="#f08a30" fill-opacity="0.85" stroke="#f08a30" stroke-width="0.7"/>
<circle cx="111" cy="463.8" r="2.05" fill="#e05020" fill-opacity="0.85" stroke="#e05020" stroke-width="0.7"/>
<circle cx="112.9" cy="464.8" r="2.05" fill="#a8e060" fill-opacity="0.85" stroke="#a8e060" stroke-width="0.7"/>
<circle cx="117.3" cy="460.4" r="2.05" fill="#f08a30" fill-opacity="0.85" stroke="#f08a30" stroke-width="0.7"/>
<circle cx="118.3" cy="458.1" r="2.05" fill="#a8e060" fill-opacity="0.85" stroke="#a8e060" stroke-width="0.7"/>
<circle cx="121.2" cy="460.6" r="2.05" fill="#e05020" fill-opacity="0.85" stroke="#e05020" stroke-width="0.7"/>
<circle cx="125.4" cy="460.4" r="2.05" fill="#c0e040" fill-opacity="0.85" stroke="#c0e040" stroke-width="0.7"/>
<circle cx="130.2" cy="460.4" r="2.05" fill="#e05020" fill-opacity="0.85" stroke="#e05020" stroke-width="0.7"/>
<circle cx="133.1" cy="461" r="2.05" fill="#f0b030" fill-opacity="0.85" stroke="#f0b030" stroke-width="0.7"/>
<circle cx="137.9" cy="458.7" r="2.05" fill="#f08a30" fill-opacity="0.85" stroke="#f08a30" stroke-width="0.7"/>
<circle cx="141.7" cy="460.6" r="2.05" fill="#e05020" fill-opacity="0.85" stroke="#e05020" stroke-width="0.7"/>
<circle cx="134" cy="467.3" r="2.05" fill="#b83010" fill-opacity="0.85" stroke="#b83010" stroke-width="0.7"/>
<circle cx="136" cy="468.1" r="2.05" fill="#f08a30" fill-opacity="0.85" stroke="#f08a30" stroke-width="0.7"/>
<circle cx="140.8" cy="467.7" r="2.05" fill="#e0d040" fill-opacity="0.85" stroke="#e0d040" stroke-width="0.7"/>
<circle cx="144" cy="448.1" r="2.05" fill="#48e890" fill-opacity="0.85" stroke="#48e890" stroke-width="0.7"/>
<circle cx="146.2" cy="451.3" r="2.05" fill="#a8e060" fill-opacity="0.85" stroke="#a8e060" stroke-width="0.7"/>
<circle cx="147.5" cy="445.6" r="2.05" fill="#f08a30" fill-opacity="0.85" stroke="#f08a30" stroke-width="0.7"/>
<circle cx="150" cy="444.2" r="2.05" fill="#c0e040" fill-opacity="0.85" stroke="#c0e040" stroke-width="0.7"/>
<circle cx="152.3" cy="445.2" r="2.05" fill="#50e0a8" fill-opacity="0.85" stroke="#50e0a8" stroke-width="0.7"/>
<circle cx="159.6" cy="445" r="2.05" fill="#e05020" fill-opacity="0.85" stroke="#e05020" stroke-width="0.7"/>
<circle cx="153.8" cy="476.3" r="2.05" fill="#e05020" fill-opacity="0.85" stroke="#e05020" stroke-width="0.7"/>
<circle cx="156.2" cy="476.3" r="2.05" fill="#f08a30" fill-opacity="0.85" stroke="#f08a30" stroke-width="0.7"/>
<circle cx="158.5" cy="475.4" r="2.05" fill="#a8e060" fill-opacity="0.85" stroke="#a8e060" stroke-width="0.7"/>
<circle cx="98.1" cy="491.7" r="2.05" fill="#e0d040" fill-opacity="0.85" stroke="#e0d040" stroke-width="0.7"/>
<circle cx="168.7" cy="421.9" r="2.05" fill="#3a3070" fill-opacity="0.85" stroke="#3a3070" stroke-width="0.7"/>
<circle cx="160.6" cy="445" r="2.05" fill="#e05020" fill-opacity="0.85" stroke="#e05020" stroke-width="0.7"/>
<circle cx="163.1" cy="445" r="2.05" fill="#f08a30" fill-opacity="0.85" stroke="#f08a30" stroke-width="0.7"/>
<circle cx="165.4" cy="445" r="2.05" fill="#e05020" fill-opacity="0.85" stroke="#e05020" stroke-width="0.7"/>
<circle cx="167.3" cy="445" r="2.05" fill="#a8e060" fill-opacity="0.85" stroke="#a8e060" stroke-width="0.7"/>
<circle cx="175" cy="445" r="2.05" fill="#e05020" fill-opacity="0.85" stroke="#e05020" stroke-width="0.7"/>
<circle cx="184.2" cy="445" r="2.05" fill="#e05020" fill-opacity="0.85" stroke="#e05020" stroke-width="0.7"/>
<circle cx="190" cy="445" r="2.05" fill="#e05020" fill-opacity="0.85" stroke="#e05020" stroke-width="0.7"/>
<circle cx="195.2" cy="445" r="2.05" fill="#f08a30" fill-opacity="0.85" stroke="#f08a30" stroke-width="0.7"/>
<circle cx="196.5" cy="443.5" r="2.05" fill="#f08a30" fill-opacity="0.85" stroke="#f08a30" stroke-width="0.7"/>
<circle cx="198.5" cy="445" r="2.05" fill="#e0d040" fill-opacity="0.85" stroke="#e0d040" stroke-width="0.7"/>
<circle cx="201" cy="445" r="2.05" fill="#e05020" fill-opacity="0.85" stroke="#e05020" stroke-width="0.7"/>
<circle cx="202.9" cy="445" r="2.05" fill="#e05020" fill-opacity="0.85" stroke="#e05020" stroke-width="0.7"/>
<circle cx="205.4" cy="445" r="2.05" fill="#a8e060" fill-opacity="0.85" stroke="#a8e060" stroke-width="0.7"/>
<circle cx="213.1" cy="445" r="2.05" fill="#e05020" fill-opacity="0.85" stroke="#e05020" stroke-width="0.7"/>
<circle cx="216.3" cy="443.7" r="2.05" fill="#f08a30" fill-opacity="0.85" stroke="#f08a30" stroke-width="0.7"/>
<circle cx="218.8" cy="443.5" r="2.05" fill="#f08a30" fill-opacity="0.85" stroke="#f08a30" stroke-width="0.7"/>
<circle cx="221.2" cy="445" r="2.05" fill="#f08a30" fill-opacity="0.85" stroke="#f08a30" stroke-width="0.7"/>
<circle cx="225.4" cy="443.8" r="2.05" fill="#3a3070" fill-opacity="0.85" stroke="#3a3070" stroke-width="0.7"/>
<circle cx="226" cy="445" r="2.05" fill="#e05020" fill-opacity="0.85" stroke="#e05020" stroke-width="0.7"/>
<circle cx="228.8" cy="445" r="2.05" fill="#c0e040" fill-opacity="0.85" stroke="#c0e040" stroke-width="0.7"/>
<circle cx="238.8" cy="445" r="2.05" fill="#e05020" fill-opacity="0.85" stroke="#e05020" stroke-width="0.7"/>
<circle cx="167.8" cy="450.4" r="2.05" fill="#e05020" fill-opacity="0.85" stroke="#e05020" stroke-width="0.7"/>
<circle cx="170.6" cy="450.4" r="2.05" fill="#e05020" fill-opacity="0.85" stroke="#e05020" stroke-width="0.7"/>
<circle cx="179.8" cy="465.8" r="2.05" fill="#e05020" fill-opacity="0.85" stroke="#e05020" stroke-width="0.7"/>
<circle cx="176.9" cy="471.5" r="2.05" fill="#b83010" fill-opacity="0.85" stroke="#b83010" stroke-width="0.7"/>
<circle cx="231.7" cy="461.9" r="2.05" fill="#c0e040" fill-opacity="0.85" stroke="#c0e040" stroke-width="0.7"/>
<circle cx="236.5" cy="462.3" r="2.05" fill="#c0e040" fill-opacity="0.85" stroke="#c0e040" stroke-width="0.7"/>
<circle cx="249" cy="468.7" r="2.05" fill="#c0e040" fill-opacity="0.85" stroke="#c0e040" stroke-width="0.7"/>
<circle cx="261.9" cy="423.5" r="2.05" fill="#c0e040" fill-opacity="0.85" stroke="#c0e040" stroke-width="0.7"/>
<circle cx="262.9" cy="421.9" r="2.05" fill="#2a1a58" fill-opacity="0.85" stroke="#2a1a58" stroke-width="0.7"/>
<circle cx="248.8" cy="439.2" r="2.05" fill="#e05020" fill-opacity="0.85" stroke="#e05020" stroke-width="0.7"/>
<circle cx="247.7" cy="444" r="2.05" fill="#3a4ca8" fill-opacity="0.85" stroke="#3a4ca8" stroke-width="0.7"/>
<circle cx="258.8" cy="445" r="2.05" fill="#c0e040" fill-opacity="0.85" stroke="#c0e040" stroke-width="0.7"/>
<circle cx="270.4" cy="445" r="2.05" fill="#e05020" fill-opacity="0.85" stroke="#e05020" stroke-width="0.7"/>
<circle cx="272.3" cy="445" r="2.05" fill="#c0e040" fill-opacity="0.85" stroke="#c0e040" stroke-width="0.7"/>
<circle cx="279.2" cy="445" r="2.05" fill="#e05020" fill-opacity="0.85" stroke="#e05020" stroke-width="0.7"/>
<circle cx="284.4" cy="445" r="2.05" fill="#48e890" fill-opacity="0.85" stroke="#48e890" stroke-width="0.7"/>
<circle cx="288.8" cy="444" r="2.05" fill="#3a3070" fill-opacity="0.85" stroke="#3a3070" stroke-width="0.7"/>
<circle cx="289.8" cy="445" r="2.05" fill="#c0e040" fill-opacity="0.85" stroke="#c0e040" stroke-width="0.7"/>
<circle cx="294" cy="442.1" r="2.05" fill="#2a1a58" fill-opacity="0.85" stroke="#2a1a58" stroke-width="0.7"/>
<circle cx="296" cy="442.1" r="2.05" fill="#2a1a58" fill-opacity="0.85" stroke="#2a1a58" stroke-width="0.7"/>
<circle cx="300.4" cy="445" r="2.05" fill="#c0e040" fill-opacity="0.85" stroke="#c0e040" stroke-width="0.7"/>
<circle cx="305" cy="445" r="2.05" fill="#c0e040" fill-opacity="0.85" stroke="#c0e040" stroke-width="0.7"/>
<circle cx="306.5" cy="443.5" r="2.05" fill="#2a1a58" fill-opacity="0.85" stroke="#2a1a58" stroke-width="0.7"/>
<circle cx="310.4" cy="443.5" r="2.05" fill="#2a1a58" fill-opacity="0.85" stroke="#2a1a58" stroke-width="0.7"/>
<circle cx="310" cy="445" r="2.05" fill="#c0e040" fill-opacity="0.85" stroke="#c0e040" stroke-width="0.7"/>
<circle cx="316.5" cy="445" r="2.05" fill="#c0e040" fill-opacity="0.85" stroke="#c0e040" stroke-width="0.7"/>
<circle cx="319" cy="445" r="2.05" fill="#e05020" fill-opacity="0.85" stroke="#e05020" stroke-width="0.7"/>
<circle cx="321.5" cy="443.5" r="2.05" fill="#2a1a58" fill-opacity="0.85" stroke="#2a1a58" stroke-width="0.7"/>
<circle cx="323.8" cy="443.5" r="2.05" fill="#2a1a58" fill-opacity="0.85" stroke="#2a1a58" stroke-width="0.7"/>
<circle cx="325.8" cy="449.8" r="2.05" fill="#f08a30" fill-opacity="0.85" stroke="#f08a30" stroke-width="0.7"/>
<circle cx="326.3" cy="451.7" r="2.05" fill="#e05020" fill-opacity="0.85" stroke="#e05020" stroke-width="0.7"/>
<circle cx="324.8" cy="461.3" r="2.05" fill="#e05020" fill-opacity="0.85" stroke="#e05020" stroke-width="0.7"/>
<circle cx="266.2" cy="461" r="2.05" fill="#c0e040" fill-opacity="0.85" stroke="#c0e040" stroke-width="0.7"/>
<circle cx="260" cy="462.7" r="2.05" fill="#48e890" fill-opacity="0.85" stroke="#48e890" stroke-width="0.7"/>
<circle cx="250.4" cy="468.5" r="2.05" fill="#c0e040" fill-opacity="0.85" stroke="#c0e040" stroke-width="0.7"/>
<circle cx="256.2" cy="468.5" r="2.05" fill="#c0e040" fill-opacity="0.85" stroke="#c0e040" stroke-width="0.7"/>
<circle cx="257.5" cy="467.7" r="2.05" fill="#c0e040" fill-opacity="0.85" stroke="#c0e040" stroke-width="0.7"/>
<circle cx="343.1" cy="444" r="2.05" fill="#2a1a58" fill-opacity="0.85" stroke="#2a1a58" stroke-width="0.7"/>
<circle cx="345.4" cy="444" r="2.05" fill="#2a1a58" fill-opacity="0.85" stroke="#2a1a58" stroke-width="0.7"/>
<circle cx="350.6" cy="444" r="2.05" fill="#2a1a58" fill-opacity="0.85" stroke="#2a1a58" stroke-width="0.7"/>
<circle cx="354.4" cy="444.6" r="2.05" fill="#e05020" fill-opacity="0.85" stroke="#e05020" stroke-width="0.7"/>
<circle cx="357.7" cy="442.7" r="2.05" fill="#f08a30" fill-opacity="0.85" stroke="#f08a30" stroke-width="0.7"/>
<circle cx="360.2" cy="440.2" r="2.05" fill="#2a1a58" fill-opacity="0.85" stroke="#2a1a58" stroke-width="0.7"/>
<circle cx="362.1" cy="442.7" r="2.05" fill="#e05020" fill-opacity="0.85" stroke="#e05020" stroke-width="0.7"/>
<circle cx="366.9" cy="444.6" r="2.05" fill="#c0e040" fill-opacity="0.85" stroke="#c0e040" stroke-width="0.7"/>
<circle cx="371.3" cy="445" r="2.05" fill="#e05020" fill-opacity="0.85" stroke="#e05020" stroke-width="0.7"/>
<circle cx="374.6" cy="445" r="2.05" fill="#e05020" fill-opacity="0.85" stroke="#e05020" stroke-width="0.7"/>
<circle cx="386.2" cy="443.1" r="2.05" fill="#2a1a58" fill-opacity="0.85" stroke="#2a1a58" stroke-width="0.7"/>
<circle cx="391" cy="443.1" r="2.05" fill="#2a1a58" fill-opacity="0.85" stroke="#2a1a58" stroke-width="0.7"/>
<circle cx="394.4" cy="449.8" r="2.05" fill="#8a1808" fill-opacity="0.85" stroke="#8a1808" stroke-width="0.7"/>
<circle cx="404.4" cy="449.2" r="2.05" fill="#8a1808" fill-opacity="0.85" stroke="#8a1808" stroke-width="0.7"/>
<circle cx="404.4" cy="454.2" r="2.05" fill="#8a1808" fill-opacity="0.85" stroke="#8a1808" stroke-width="0.7"/>
<circle cx="419.2" cy="460.5" r="2.05" fill="#48e890" fill-opacity="0.85" stroke="#48e890" stroke-width="0.7"/>
<circle cx="421.7" cy="460.5" r="2.05" fill="#c0e040" fill-opacity="0.85" stroke="#c0e040" stroke-width="0.7"/>
<circle cx="422.1" cy="460.5" r="2.05" fill="#3a4ca8" fill-opacity="0.85" stroke="#3a4ca8" stroke-width="0.7"/>
<circle cx="423.5" cy="460.5" r="2.05" fill="#f08a30" fill-opacity="0.85" stroke="#f08a30" stroke-width="0.7"/>
<circle cx="425.9" cy="460.5" r="2.05" fill="#f0b030" fill-opacity="0.85" stroke="#f0b030" stroke-width="0.7"/>
<circle cx="429.9" cy="460.5" r="2.05" fill="#f0b030" fill-opacity="0.85" stroke="#f0b030" stroke-width="0.7"/>
<circle cx="433.1" cy="460.5" r="2.05" fill="#50e0a8" fill-opacity="0.85" stroke="#50e0a8" stroke-width="0.7"/>
<circle cx="445.7" cy="461.3" r="2.05" fill="#f08a30" fill-opacity="0.85" stroke="#f08a30" stroke-width="0.7"/>
<circle cx="450.4" cy="459.9" r="2.05" fill="#3a4ca8" fill-opacity="0.85" stroke="#3a4ca8" stroke-width="0.7"/>
<circle cx="463.6" cy="459.1" r="2.05" fill="#f08a30" fill-opacity="0.85" stroke="#f08a30" stroke-width="0.7"/>
<circle cx="465.2" cy="459.5" r="2.05" fill="#3a4ca8" fill-opacity="0.85" stroke="#3a4ca8" stroke-width="0.7"/>
<circle cx="467.2" cy="459.5" r="2.05" fill="#40b0e8" fill-opacity="0.85" stroke="#40b0e8" stroke-width="0.7"/>
<circle cx="471.6" cy="460.6" r="2.05" fill="#8a1808" fill-opacity="0.85" stroke="#8a1808" stroke-width="0.7"/>
<circle cx="381.3" cy="465.8" r="2.05" fill="#c0e040" fill-opacity="0.85" stroke="#c0e040" stroke-width="0.7"/>
<circle cx="380" cy="468.1" r="2.05" fill="#e05020" fill-opacity="0.85" stroke="#e05020" stroke-width="0.7"/>
<circle cx="405" cy="466.5" r="2.05" fill="#c0e040" fill-opacity="0.85" stroke="#c0e040" stroke-width="0.7"/>
<circle cx="403.1" cy="470.4" r="2.05" fill="#f0b030" fill-opacity="0.85" stroke="#f0b030" stroke-width="0.7"/>
<circle cx="409.2" cy="470.4" r="2.05" fill="#e0d040" fill-opacity="0.85" stroke="#e0d040" stroke-width="0.7"/>
<circle cx="411.2" cy="468.1" r="2.05" fill="#c0e040" fill-opacity="0.85" stroke="#c0e040" stroke-width="0.7"/>
<circle cx="412.7" cy="471.9" r="2.05" fill="#c0e040" fill-opacity="0.85" stroke="#c0e040" stroke-width="0.7"/>
<circle cx="414.3" cy="466" r="2.05" fill="#e05020" fill-opacity="0.85" stroke="#e05020" stroke-width="0.7"/>
<circle cx="455.5" cy="471.9" r="2.05" fill="#f0b030" fill-opacity="0.85" stroke="#f0b030" stroke-width="0.7"/>
<circle cx="460.5" cy="474.3" r="2.05" fill="#50e0a8" fill-opacity="0.85" stroke="#50e0a8" stroke-width="0.7"/>
<line x1="247.5" y1="58.8" x2="272.5" y2="70.2" stroke="#111" stroke-width="1"/>
</svg></body></html>
